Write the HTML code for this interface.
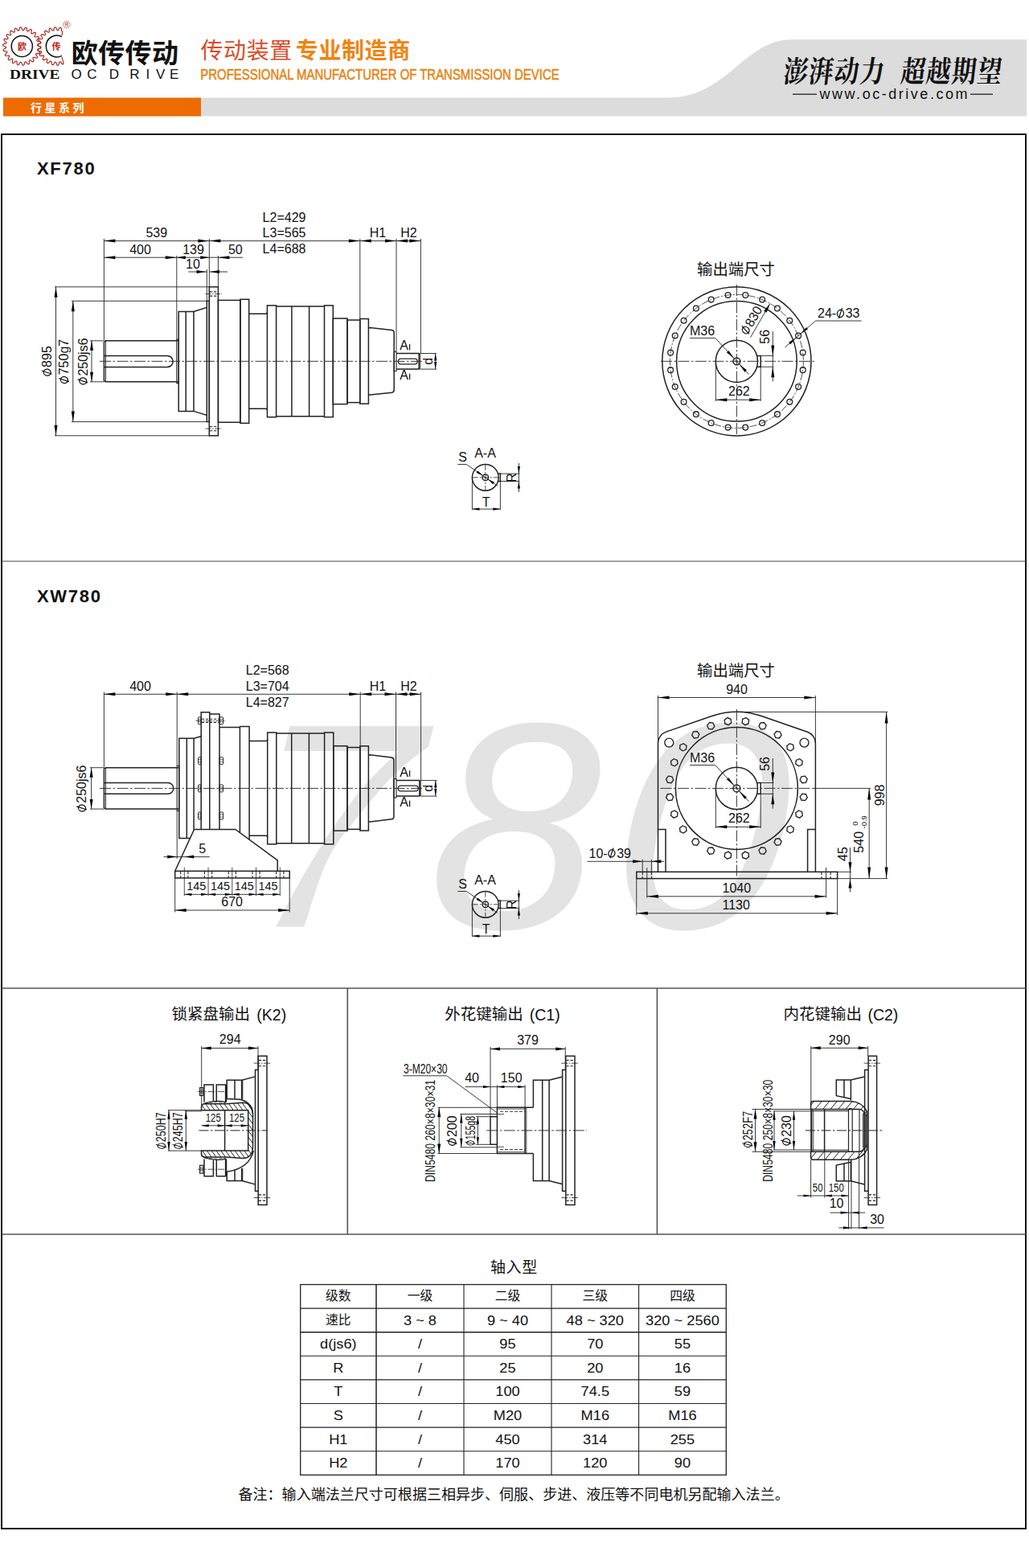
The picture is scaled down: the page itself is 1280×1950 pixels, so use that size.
<!DOCTYPE html>
<html lang="zh">
<head>
<meta charset="utf-8">
<title>XF780 / XW780</title>
<style>
html,body{margin:0;padding:0;background:#fff;}
body{width:1280px;height:1950px;position:relative;overflow:hidden;font-family:"Liberation Sans","Noto Sans CJK SC",sans-serif;}
svg#page{position:absolute;left:0;top:0;width:1280px;height:1950px;display:block;}
svg#page text{font-family:"Liberation Sans","Noto Sans CJK SC",sans-serif;stroke:none;}
</style>
</head>
<body>
<svg id="page" width="1280" height="1950" viewBox="0 0 1280 1950" font-family="Liberation Sans, sans-serif" fill="#111" stroke="#222" stroke-linecap="butt" stroke-linejoin="miter">
<g stroke="none">
<path d="M360.5 902.9 L539.3 902.9 L533 928.6 C526.1 934.1 506.4 947.4 491.7 961.9 C477.0 976.4 459.1 997.8 445.0 1015.8 C430.9 1033.8 418.4 1046.9 407.3 1069.7 C396.2 1092.5 383.3 1138.6 378.5 1152.4 L343.5 1152.4 C348.7 1142.5 362.8 1114.0 374.9 1093.0 C387.0 1072.0 402.8 1046.3 416.3 1026.6 C429.8 1006.8 442.5 989.9 455.8 974.5 C469.1 959.1 489.5 940.8 496.2 934.0 L353.4 934 Z" fill="#e3e3e3"/>
<text transform="translate(530.5 1154) skewX(-2.5) scale(1.03 1)" x="0" y="0" font-size="366" font-style="italic" fill="#e3e3e3" style="font-family:'Liberation Sans',sans-serif">8</text>
<text transform="translate(758.5 1154) skewX(-2.5) scale(1.075 1)" x="0" y="0" font-size="366" font-style="italic" fill="#e3e3e3" style="font-family:'Liberation Sans',sans-serif">0</text>
</g>
<path d="M250 121.5 L831 121.5 C905 121.5 925 49.3 985 49.3 L1277 49.3 L1277 144.6 L250 144.6Z" fill="#dcdcdc" stroke="none"/>
<rect x="4" y="121.5" width="246" height="23.1" fill="#ec6c00" stroke="none"/>
<text x="38" y="138.8" font-size="14" font-weight="bold" letter-spacing="3.5" fill="#fff">行星系列</text>
<path d="M49.1 57.5 L50.41 58.05 L50.91 58.62 L51.04 59.2 L50.83 59.75 L50.26 60.24 L48.88 60.6 L47.5 60.9 L46.9 61.28 L46.65 61.71 L46.7 62.21 L47.08 62.8 L48.22 63.64 L49.32 64.54 L49.63 65.23 L49.6 65.82 L49.24 66.28 L48.55 66.6 L47.13 66.56 L45.72 66.45 L45.05 66.65 L44.68 66.99 L44.59 67.48 L44.79 68.16 L45.64 69.29 L46.45 70.46 L46.55 71.21 L46.35 71.76 L45.88 72.11 L45.13 72.22 L43.78 71.78 L42.45 71.28 L41.75 71.28 L41.3 71.5 L41.08 71.95 L41.08 72.65 L41.58 73.98 L42.02 75.33 L41.91 76.08 L41.56 76.55 L41.01 76.75 L40.26 76.65 L39.09 75.84 L37.96 74.99 L37.28 74.79 L36.79 74.88 L36.45 75.25 L36.25 75.92 L36.36 77.33 L36.4 78.75 L36.08 79.44 L35.62 79.8 L35.03 79.83 L34.34 79.52 L33.44 78.42 L32.6 77.28 L32.01 76.9 L31.51 76.85 L31.08 77.1 L30.7 77.7 L30.4 79.08 L30.04 80.46 L29.55 81.03 L29 81.24 L28.42 81.11 L27.85 80.61 L27.3 79.3 L26.81 77.97 L26.35 77.44 L25.89 77.25 L25.4 77.37 L24.87 77.84 L24.2 79.08 L23.47 80.3 L22.83 80.71 L22.24 80.76 L21.73 80.47 L21.32 79.83 L21.16 78.42 L21.06 77.01 L20.77 76.37 L20.38 76.05 L19.88 76.04 L19.24 76.33 L18.24 77.33 L17.2 78.3 L16.47 78.51 L15.89 78.39 L15.48 77.97 L15.27 77.24 L15.51 75.84 L15.82 74.46 L15.72 73.76 L15.43 73.35 L14.96 73.19 L14.26 73.29 L13.02 73.98 L11.75 74.61 L10.99 74.61 L10.47 74.33 L10.19 73.81 L10.19 73.05 L10.82 71.78 L11.51 70.54 L11.61 69.84 L11.45 69.37 L11.04 69.08 L10.34 68.98 L8.96 69.29 L7.56 69.53 L6.83 69.32 L6.41 68.91 L6.29 68.33 L6.5 67.6 L7.47 66.56 L8.47 65.56 L8.76 64.92 L8.75 64.42 L8.43 64.03 L7.79 63.74 L6.38 63.64 L4.97 63.48 L4.33 63.07 L4.04 62.56 L4.09 61.97 L4.5 61.33 L5.72 60.6 L6.96 59.93 L7.43 59.4 L7.55 58.91 L7.36 58.45 L6.83 57.99 L5.5 57.5 L4.19 56.95 L3.69 56.38 L3.56 55.8 L3.77 55.25 L4.34 54.76 L5.72 54.4 L7.1 54.1 L7.7 53.72 L7.95 53.29 L7.9 52.79 L7.52 52.2 L6.38 51.36 L5.28 50.46 L4.97 49.77 L5 49.18 L5.36 48.72 L6.05 48.4 L7.47 48.44 L8.88 48.55 L9.55 48.35 L9.92 48.01 L10.01 47.52 L9.81 46.84 L8.96 45.71 L8.15 44.54 L8.05 43.79 L8.25 43.24 L8.72 42.89 L9.47 42.78 L10.82 43.22 L12.15 43.72 L12.85 43.72 L13.3 43.5 L13.52 43.05 L13.52 42.35 L13.02 41.02 L12.58 39.67 L12.69 38.92 L13.04 38.45 L13.59 38.25 L14.34 38.35 L15.51 39.16 L16.64 40.01 L17.32 40.21 L17.81 40.12 L18.15 39.75 L18.35 39.08 L18.24 37.67 L18.2 36.25 L18.52 35.56 L18.98 35.2 L19.57 35.17 L20.26 35.48 L21.16 36.58 L22 37.72 L22.59 38.1 L23.09 38.15 L23.52 37.9 L23.9 37.3 L24.2 35.92 L24.56 34.54 L25.05 33.97 L25.6 33.76 L26.18 33.89 L26.75 34.39 L27.3 35.7 L27.79 37.03 L28.25 37.56 L28.71 37.75 L29.2 37.63 L29.73 37.16 L30.4 35.92 L31.13 34.7 L31.77 34.29 L32.36 34.24 L32.87 34.53 L33.28 35.17 L33.44 36.58 L33.54 37.99 L33.83 38.63 L34.22 38.95 L34.72 38.96 L35.36 38.67 L36.36 37.67 L37.4 36.7 L38.13 36.49 L38.71 36.61 L39.12 37.03 L39.33 37.76 L39.09 39.16 L38.78 40.54 L38.88 41.24 L39.17 41.65 L39.64 41.81 L40.34 41.71 L41.58 41.02 L42.85 40.39 L43.61 40.39 L44.13 40.67 L44.41 41.19 L44.41 41.95 L43.78 43.22 L43.09 44.46 L42.99 45.16 L43.15 45.63 L43.56 45.92 L44.26 46.02 L45.64 45.71 L47.04 45.47 L47.77 45.68 L48.19 46.09 L48.31 46.67 L48.1 47.4 L47.13 48.44 L46.13 49.44 L45.84 50.08 L45.85 50.58 L46.17 50.97 L46.81 51.26 L48.22 51.36 L49.63 51.52 L50.27 51.93 L50.56 52.44 L50.51 53.03 L50.1 53.67 L48.88 54.4 L47.64 55.07 L47.17 55.6 L47.05 56.09 L47.24 56.55 L47.77 57.01 L49.1 57.5Z" fill="none" stroke="#a3231c" stroke-width="1.15"/>
<path d="M79.18 79.3 L78.74 79.74 L78.18 79.86 L77.51 79.63 L76.72 78.93 L75.76 77.43 L75.13 76.96 L74.62 76.83 L74.17 77.02 L73.78 77.53 L73.43 78.52 L73.14 80.28 L72.66 80.94 L72.12 81.22 L71.54 81.16 L70.97 80.75 L70.41 79.82 L69.91 78.13 L69.44 77.52 L68.98 77.26 L68.5 77.33 L67.97 77.72 L67.36 78.61 L66.59 80.18 L65.94 80.66 L65.34 80.77 L64.81 80.54 L64.38 79.96 L64.11 78.88 L64.1 77.15 L63.82 76.45 L63.45 76.08 L62.96 76.02 L62.34 76.26 L61.49 76.97 L60.32 78.23 L59.56 78.5 L58.96 78.42 L58.53 78.04 L58.28 77.36 L58.36 76.21 L58.82 74.57 L58.74 73.83 L58.48 73.39 L58.02 73.2 L57.35 73.27 L56.3 73.74 L54.84 74.59 L54.06 74.62 L53.51 74.37 L53.21 73.87 L53.18 73.13 L53.61 72.02 L54.48 70.61 L54.61 69.89 L54.47 69.4 L54.08 69.1 L53.4 68.98 L52.22 69.17 L50.62 69.54 L49.87 69.34 L49.43 68.94 L49.29 68.37 L49.48 67.65 L50.27 66.68 L51.45 65.6 L51.76 64.95 L51.76 64.44 L51.45 64.04 L50.82 63.75 L49.57 63.61 L48 63.5 L47.35 63.09 L47.05 62.57 L47.09 61.99 L47.49 61.35 L48.6 60.63 L49.95 59.94 L50.42 59.4 L50.55 58.92 L50.36 58.45 L49.83 57.99 L48.5 57.5 L47.18 56.95 L46.69 56.37 L46.56 55.8 L46.78 55.25 L47.36 54.75 L48.84 54.41 L50.12 54.1 L50.71 53.71 L50.96 53.28 L50.89 52.78 L50.5 52.18 L49.21 51.29 L48.26 50.43 L47.96 49.74 L48.01 49.16 L48.38 48.7 L49.09 48.39 L50.7 48.52 L51.93 48.54 L52.58 48.33 L52.94 47.98 L53.01 47.48 L52.79 46.78 L51.74 45.53 L51.13 44.48 L51.05 43.74 L51.28 43.2 L51.77 42.87 L52.55 42.78 L54.1 43.4 L55.22 43.73 L55.9 43.71 L56.33 43.46 L56.53 42.99 L56.51 42.25 L55.83 40.72 L55.58 39.57 L55.72 38.85 L56.09 38.41 L56.67 38.24 L57.45 38.39 L58.78 39.46 L59.74 40.06 L60.39 40.21 L60.87 40.09 L61.19 39.68 L61.37 38.95 L61.14 37.25 L61.23 36.12 L61.58 35.48 L62.07 35.17 L62.67 35.19 L63.38 35.57 L64.37 37 L65.11 37.81 L65.68 38.13 L66.17 38.13 L66.59 37.82 L66.97 37.15 L67.22 35.43 L67.64 34.41 L68.15 33.91 L68.71 33.76 L69.29 33.96 L69.86 34.54 L70.4 36.22 L70.88 37.16 L71.34 37.62 L71.81 37.75 L72.31 37.56 L72.86 37.01 L73.59 35.4 L74.28 34.58 L74.91 34.25 L75.48 34.28 L75.98 34.65 L76.36 35.38 L76.4 37.16 L76.6 38.18 L76.92 38.74 L77.33 38.98 L77.87 38.92" fill="none" stroke="#a3231c" stroke-width="1.15"/>
<path d="M79.18 79.3 L77 70.9 M77.87 38.92 L77 44.1" fill="none" stroke="#a3231c" stroke-width="1.1"/>
<circle cx="27.3" cy="57.5" r="13.1" fill="none" stroke="#111" stroke-width="1.5"/>
<path d="M76.99 45.67 A13.4 13.4 0 1 0 76.99 69.33" fill="none" stroke="#111" stroke-width="1.5"/>
<text x="27.5" y="61.6" font-size="11" font-weight="bold" text-anchor="middle" fill="#c41a10">欧</text>
<text x="70.1" y="61.6" font-size="11" font-weight="bold" text-anchor="middle" fill="#c41a10">传</text>
<circle cx="83" cy="30.6" r="4.2" fill="none" stroke="#c9635c" stroke-width="0.8"/>
<text x="83" y="33" font-size="6.5" text-anchor="middle" fill="#c9635c" font-weight="bold">R</text>
<text x="12" y="98" style="font-family:'Liberation Serif',serif" font-weight="bold" font-size="17.5" fill="#111" textLength="62.5" lengthAdjust="spacingAndGlyphs">DRIVE</text>
<text x="88.8" y="78" font-size="33" font-weight="bold" letter-spacing="0.4" fill="#111">欧传传动</text>
<text x="95.2" y="98" font-size="17" text-anchor="middle" fill="#111">O</text>
<text x="114.4" y="98" font-size="17" text-anchor="middle" fill="#111">C</text>
<text x="142" y="98" font-size="17" text-anchor="middle" fill="#111">D</text>
<text x="167.3" y="98" font-size="17" text-anchor="middle" fill="#111">R</text>
<text x="183.8" y="98" font-size="17" text-anchor="middle" fill="#111">I</text>
<text x="199.7" y="98" font-size="17" text-anchor="middle" fill="#111">V</text>
<text x="216.6" y="98" font-size="17" text-anchor="middle" fill="#111">E</text>
<text x="249.5" y="72.8" font-size="28" letter-spacing="0.6" fill="#dd4b28">传动装置</text>
<text x="367.8" y="72.8" font-size="28" font-weight="bold" letter-spacing="0.6" fill="#ef8412">专业制造商</text>
<text transform="translate(249.3 98.5) scale(0.83 1)" x="0" y="0" font-size="18" fill="#e8820e" style="stroke:#e8820e;stroke-width:0.5px">PROFESSIONAL MANUFACTURER OF TRANSMISSION DEVICE</text>
<g fill="#111" stroke="none"><text transform="translate(973 105) scale(0.92 1.12) skewX(-8)" x="0" y="-3" font-size="33" font-weight="bold" letter-spacing="1.5" fill="#111" style="font-family:'Liberation Serif','Noto Serif CJK SC',serif">澎湃动力</text><text transform="translate(1119 105) scale(0.92 1.12) skewX(-8)" x="0" y="-3" font-size="33" font-weight="bold" letter-spacing="1.5" fill="#111" style="font-family:'Liberation Serif','Noto Serif CJK SC',serif">超越期望</text></g>
<line x1="986" y1="117.2" x2="1016" y2="117.2" stroke-width="1.2" stroke="#111"/>
<line x1="1207" y1="117.2" x2="1235" y2="117.2" stroke-width="1.2" stroke="#111"/>
<text x="1019.5" y="123" font-size="18" textLength="184" lengthAdjust="spacing" fill="#111">www.oc-drive.com</text>
<rect x="2" y="167" width="1274" height="1734" fill="none" stroke="#111" stroke-width="2"/>
<line x1="2" y1="698" x2="1276" y2="698" stroke-width="1.2" stroke="#444"/>
<line x1="2" y1="1229" x2="1276" y2="1229" stroke-width="1.6" stroke="#555"/>
<line x1="2" y1="1535" x2="1276" y2="1535" stroke-width="1.6" stroke="#555"/>
<line x1="432.3" y1="1229" x2="432.3" y2="1535" stroke-width="1.6" stroke="#555"/>
<line x1="817.4" y1="1229" x2="817.4" y2="1535" stroke-width="1.6" stroke="#555"/>
<text x="46" y="217.3" font-size="22" font-weight="bold" letter-spacing="1.7" stroke="none">XF780</text>
<text x="46" y="748.5" font-size="22" font-weight="bold" letter-spacing="1.7" stroke="none">XW780</text>
<path d="M222.2 423.8 L131.2 423.8 L129.4 425.3 L129.4 473.3 L131.2 474.8 L222.2 474.8" stroke-width="1.5" fill="none"/>
<line x1="131.4" y1="424.2" x2="131.4" y2="474.5" stroke-width="1"/>
<path d="M129.4 442.6 L208.3 442.6 A6.9 6.9 0 0 1 208.3 456.4 L129.4 456.4" stroke-width="1.5" fill="none" />
<rect x="219.8" y="422.1" width="2.4" height="54.6" stroke-width="1.1" fill="none"/>
<path d="M257.3 382.4 L241 387.4 L222.2 387.4 L222.2 511.4 L241 511.4 L257.3 516.4" stroke-width="1.5" fill="none"/>
<line x1="231.2" y1="387.4" x2="231.2" y2="511.4" stroke-width="1.5"/>
<line x1="241" y1="387.4" x2="241" y2="511.4" stroke-width="1.5"/>
<rect x="257.3" y="374.3" width="3" height="150.2" stroke-width="1.5" fill="none"/>
<rect x="260.3" y="356.8" width="11.1" height="185" stroke-width="1.5" fill="none"/>
<line x1="261" y1="362.9" x2="270.7" y2="362.9" stroke-width="1.1" stroke-dasharray="3.2 1.8"/>
<line x1="261" y1="368.1" x2="270.7" y2="368.1" stroke-width="1.1" stroke-dasharray="3.2 1.8"/>
<line x1="255.5" y1="365.5" x2="276" y2="365.5" stroke-width="0.8" stroke-dasharray="7 1.5 1.5 1.5"/>
<line x1="261" y1="530.5" x2="270.7" y2="530.5" stroke-width="1.1" stroke-dasharray="3.2 1.8"/>
<line x1="261" y1="535.7" x2="270.7" y2="535.7" stroke-width="1.1" stroke-dasharray="3.2 1.8"/>
<line x1="255.5" y1="533.1" x2="276" y2="533.1" stroke-width="0.8" stroke-dasharray="7 1.5 1.5 1.5"/>
<rect x="271.4" y="373.4" width="27.5" height="151.8" stroke-width="1.5" fill="none"/>
<rect x="298.9" y="372.3" width="10.8" height="154" stroke-width="1.5" fill="none"/>
<path d="M309.7 390.3 L330.4 390.3 Q332.4 390.3 332.4 388.3 M309.7 508.3 L330.4 508.3 Q332.4 508.3 332.4 510.3" stroke-width="1.5" fill="none" />
<rect x="332.4" y="379.9" width="11.2" height="138.8" stroke-width="1.5" fill="none"/>
<rect x="403.5" y="379.9" width="10.8" height="138.8" stroke-width="1.5" fill="none"/>
<line x1="343.6" y1="380.9" x2="403.5" y2="380.9" stroke-width="1.5"/>
<line x1="343.6" y1="517.7" x2="403.5" y2="517.7" stroke-width="1.5"/>
<line x1="362.9" y1="380.9" x2="362.9" y2="517.7" stroke-width="1.5"/>
<line x1="384.6" y1="380.9" x2="384.6" y2="517.7" stroke-width="1.5"/>
<rect x="414.3" y="396" width="17.7" height="106.6" stroke-width="1.5" fill="none"/>
<rect x="432" y="398" width="15.8" height="102.6" stroke-width="1.5" fill="none"/>
<rect x="447.8" y="396.5" width="10.6" height="105.6" stroke-width="1.5" fill="none"/>
<path d="M458.4 407.7 L460.5 407.5 L487.3 410.4 Q490.2 410.8 490.2 413.8 L490.2 484.8 Q490.2 487.8 487.3 488.2 L460.5 491.1 L458.4 490.9" stroke-width="1.5" fill="none" />
<rect x="490.2" y="437.3" width="2.8" height="24.2" stroke-width="1.1" fill="none"/>
<path d="M493 439.5 L520.9 439.5 L522.2 440.6 L522.2 458 L520.9 459.1 L493 459.1" stroke-width="1.5" fill="none"/>
<line x1="520.9" y1="439.5" x2="520.9" y2="459.1" stroke-width="1.1"/>
<rect x="495.4" y="446.2" width="23.8" height="6.6" rx="3.3" fill="none" stroke-width="1.2"/>
<line x1="124" y1="449.3" x2="527" y2="449.3" stroke-width="0.9" stroke-dasharray="14 2.5 2.5 2.5"/>
<line x1="129.4" y1="297" x2="129.4" y2="423" stroke-width="0.9"/>
<line x1="219.8" y1="318" x2="219.8" y2="422" stroke-width="0.9"/>
<line x1="260.3" y1="297" x2="260.3" y2="357" stroke-width="0.9"/>
<line x1="257.3" y1="335" x2="257.3" y2="374" stroke-width="0.9"/>
<line x1="271.4" y1="318" x2="271.4" y2="357" stroke-width="0.9"/>
<line x1="447.8" y1="297" x2="447.8" y2="396" stroke-width="0.9"/>
<line x1="493" y1="297" x2="493" y2="437" stroke-width="0.9"/>
<line x1="523.4" y1="297" x2="523.4" y2="439" stroke-width="0.9"/>
<line x1="129.4" y1="299.6" x2="260.3" y2="299.6" stroke-width="0.9"/>
<path d="M129.4 299.6 L143.4 297.6 L143.4 301.6Z" fill="#000" stroke="none"/>
<path d="M260.3 299.6 L246.3 301.6 L246.3 297.6Z" fill="#000" stroke="none"/>
<g transform="translate(194.8 295.1)"><text x="-13.35" y="0" font-size="16">539</text></g>
<line x1="260.3" y1="299.6" x2="447.8" y2="299.6" stroke-width="0.9"/>
<path d="M260.3 299.6 L274.3 297.6 L274.3 301.6Z" fill="#000" stroke="none"/>
<path d="M447.8 299.6 L433.8 301.6 L433.8 297.6Z" fill="#000" stroke="none"/>
<g transform="translate(326.6 275.8)"><text x="0" y="0" font-size="16">L2=429</text></g>
<g transform="translate(326.6 295.35)"><text x="0" y="0" font-size="16">L3=565</text></g>
<g transform="translate(326.6 314.9)"><text x="0" y="0" font-size="16">L4=688</text></g>
<line x1="447.8" y1="299.6" x2="493" y2="299.6" stroke-width="0.9"/>
<path d="M447.8 299.6 L461.8 297.6 L461.8 301.6Z" fill="#000" stroke="none"/>
<path d="M493 299.6 L479 301.6 L479 297.6Z" fill="#000" stroke="none"/>
<g transform="translate(470 295)"><text x="-10.23" y="0" font-size="16">H1</text></g>
<line x1="493" y1="299.6" x2="523.4" y2="299.6" stroke-width="0.9"/>
<path d="M493 299.6 L507 297.6 L507 301.6Z" fill="#000" stroke="none"/>
<path d="M523.4 299.6 L509.4 301.6 L509.4 297.6Z" fill="#000" stroke="none"/>
<g transform="translate(508.5 295)"><text x="-10.23" y="0" font-size="16">H2</text></g>
<line x1="129.4" y1="320.2" x2="219.8" y2="320.2" stroke-width="0.9"/>
<path d="M129.4 320.2 L143.4 318.2 L143.4 322.2Z" fill="#000" stroke="none"/>
<path d="M219.8 320.2 L205.8 322.2 L205.8 318.2Z" fill="#000" stroke="none"/>
<g transform="translate(174.5 315.5)"><text x="-13.35" y="0" font-size="16">400</text></g>
<line x1="219.8" y1="320.2" x2="260.3" y2="320.2" stroke-width="0.9"/>
<path d="M219.8 320.2 L230.8 318.2 L230.8 322.2Z" fill="#000" stroke="none"/>
<path d="M260.3 320.2 L249.3 322.2 L249.3 318.2Z" fill="#000" stroke="none"/>
<g transform="translate(240.5 315.5)"><text x="-13.35" y="0" font-size="16">139</text></g>
<line x1="260.3" y1="320.2" x2="302.2" y2="320.2" stroke-width="0.9"/>
<path d="M271.4 320.2 L285.4 318.2 L285.4 322.2Z" fill="#000" stroke="none"/>
<g transform="translate(292.8 315.5)"><text x="-8.9" y="0" font-size="16">50</text></g>
<line x1="234.5" y1="338" x2="257.3" y2="338" stroke-width="0.9"/>
<path d="M256.6 338 L244.6 340 L244.6 336Z" fill="#000" stroke="none"/>
<line x1="260.3" y1="338" x2="283" y2="338" stroke-width="0.9"/>
<path d="M261 338 L273 336 L273 340Z" fill="#000" stroke="none"/>
<g transform="translate(240 333.8)"><text x="-8.9" y="0" font-size="16">10</text></g>
<line x1="68" y1="356.8" x2="260.3" y2="356.8" stroke-width="0.9"/>
<line x1="68" y1="541.8" x2="260.3" y2="541.8" stroke-width="0.9"/>
<line x1="69.5" y1="356.8" x2="69.5" y2="541.8" stroke-width="0.9"/>
<path d="M69.5 356.8 L71.5 369.8 L67.5 369.8Z" fill="#000" stroke="none"/>
<path d="M69.5 541.8 L67.5 528.8 L71.5 528.8Z" fill="#000" stroke="none"/>
<line x1="89" y1="374.3" x2="257.3" y2="374.3" stroke-width="0.9"/>
<line x1="89" y1="524.5" x2="257.3" y2="524.5" stroke-width="0.9"/>
<line x1="90.8" y1="374.3" x2="90.8" y2="524.5" stroke-width="0.9"/>
<path d="M90.8 374.3 L92.8 387.3 L88.8 387.3Z" fill="#000" stroke="none"/>
<path d="M90.8 524.5 L88.8 511.5 L92.8 511.5Z" fill="#000" stroke="none"/>
<line x1="112" y1="423.8" x2="129.4" y2="423.8" stroke-width="0.9"/>
<line x1="112" y1="474.8" x2="129.4" y2="474.8" stroke-width="0.9"/>
<line x1="114" y1="423.8" x2="114" y2="474.8" stroke-width="0.9"/>
<path d="M114 423.8 L116 435.8 L112 435.8Z" fill="#000" stroke="none"/>
<path d="M114 474.8 L112 462.8 L116 462.8Z" fill="#000" stroke="none"/>
<g transform="translate(64 449.3) rotate(-90)"><ellipse cx="-13.83" cy="-5.36" rx="4" ry="4.56" transform="rotate(12 -13.83 -5.36)" fill="none" stroke="#111" stroke-width="1.28"/><line x1="-15.91" y1="0.64" x2="-11.75" y2="-12.16" stroke="#111" stroke-width="1.2"/><text x="-7.59" y="0" font-size="16">895</text></g>
<g transform="translate(85.3 449.8) rotate(-90)"><ellipse cx="-22.73" cy="-5.36" rx="4" ry="4.56" transform="rotate(12 -22.73 -5.36)" fill="none" stroke="#111" stroke-width="1.28"/><line x1="-24.81" y1="0.64" x2="-20.65" y2="-12.16" stroke="#111" stroke-width="1.2"/><text x="-16.49" y="0" font-size="16">750g7</text></g>
<g transform="translate(108.6 449.8) rotate(-90)"><ellipse cx="-24.05" cy="-5.36" rx="4" ry="4.56" transform="rotate(12 -24.05 -5.36)" fill="none" stroke="#111" stroke-width="1.28"/><line x1="-26.13" y1="0.64" x2="-21.97" y2="-12.16" stroke="#111" stroke-width="1.2"/><text x="-17.81" y="0" font-size="16">250js6</text></g>
<line x1="522.2" y1="439.5" x2="543" y2="439.5" stroke-width="0.9"/>
<line x1="522.2" y1="459.1" x2="543" y2="459.1" stroke-width="0.9"/>
<line x1="541.7" y1="439.5" x2="541.7" y2="459.1" stroke-width="0.9"/>
<path d="M541.7 439.5 L543.3 448.5 L540.1 448.5Z" fill="#000" stroke="none"/>
<path d="M541.7 459.1 L540.1 450.1 L543.3 450.1Z" fill="#000" stroke="none"/>
<g transform="translate(538.3 449.3) rotate(-90)"><text x="-4.45" y="0" font-size="16">d</text></g>
<g transform="translate(497.2 435.4)"><text x="0" y="0" font-size="16">A</text></g>
<line x1="509.6" y1="427.8" x2="509.6" y2="435.4" stroke-width="1.3"/>
<g transform="translate(497.2 472.2)"><text x="0" y="0" font-size="16">A</text></g>
<line x1="509.6" y1="464.6" x2="509.6" y2="472.2" stroke-width="1.3"/>
<text x="867" y="341.5" font-size="19.4" fill="#111">输出端尺寸</text>
<circle cx="916.4" cy="449.3" r="92.6" stroke-width="1.5" fill="none"/>
<circle cx="916.4" cy="449.3" r="74.8" stroke-width="1.5" fill="none"/>
<circle cx="916.4" cy="449.3" r="83" stroke-width="0.8" fill="none" stroke-dasharray="9 2 2 2"/>
<circle cx="998.69" cy="438.47" r="3.4" stroke-width="1.3" fill="none"/>
<circle cx="993.08" cy="417.54" r="3.4" stroke-width="1.3" fill="none"/>
<circle cx="982.25" cy="398.77" r="3.4" stroke-width="1.3" fill="none"/>
<circle cx="966.93" cy="383.45" r="3.4" stroke-width="1.3" fill="none"/>
<circle cx="948.16" cy="372.62" r="3.4" stroke-width="1.3" fill="none"/>
<circle cx="927.23" cy="367.01" r="3.4" stroke-width="1.3" fill="none"/>
<circle cx="905.57" cy="367.01" r="3.4" stroke-width="1.3" fill="none"/>
<circle cx="884.64" cy="372.62" r="3.4" stroke-width="1.3" fill="none"/>
<circle cx="865.87" cy="383.45" r="3.4" stroke-width="1.3" fill="none"/>
<circle cx="850.55" cy="398.77" r="3.4" stroke-width="1.3" fill="none"/>
<circle cx="839.72" cy="417.54" r="3.4" stroke-width="1.3" fill="none"/>
<circle cx="834.11" cy="438.47" r="3.4" stroke-width="1.3" fill="none"/>
<circle cx="834.11" cy="460.13" r="3.4" stroke-width="1.3" fill="none"/>
<circle cx="839.72" cy="481.06" r="3.4" stroke-width="1.3" fill="none"/>
<circle cx="850.55" cy="499.83" r="3.4" stroke-width="1.3" fill="none"/>
<circle cx="865.87" cy="515.15" r="3.4" stroke-width="1.3" fill="none"/>
<circle cx="884.64" cy="525.98" r="3.4" stroke-width="1.3" fill="none"/>
<circle cx="905.57" cy="531.59" r="3.4" stroke-width="1.3" fill="none"/>
<circle cx="927.23" cy="531.59" r="3.4" stroke-width="1.3" fill="none"/>
<circle cx="948.16" cy="525.98" r="3.4" stroke-width="1.3" fill="none"/>
<circle cx="966.93" cy="515.15" r="3.4" stroke-width="1.3" fill="none"/>
<circle cx="982.25" cy="499.83" r="3.4" stroke-width="1.3" fill="none"/>
<circle cx="993.08" cy="481.06" r="3.4" stroke-width="1.3" fill="none"/>
<circle cx="998.69" cy="460.13" r="3.4" stroke-width="1.3" fill="none"/>
<line x1="822" y1="449.3" x2="1014" y2="449.3" stroke-width="0.9" stroke-dasharray="14 2.5 2.5 2.5"/>
<line x1="916.4" y1="354" x2="916.4" y2="540" stroke-width="0.9" stroke-dasharray="14 2.5 2.5 2.5"/>
<circle cx="916.4" cy="449.3" r="26.1" stroke-width="1.5" fill="none"/>
<circle cx="916.4" cy="449.3" r="4.4" stroke-width="1.5" fill="none"/>
<path d="M941.6 442.4 L946.2 442.4 L946.2 456.2 L941.6 456.2" stroke-width="1.5" fill="none"/>
<line x1="946.2" y1="442.4" x2="962.4" y2="442.4" stroke-width="0.9"/>
<line x1="946.2" y1="456.2" x2="962.4" y2="456.2" stroke-width="0.9"/>
<line x1="961.3" y1="411.9" x2="961.3" y2="474.5" stroke-width="0.9"/>
<path d="M961.3 442.4 L959.3 429.4 L963.3 429.4Z" fill="#000" stroke="none"/>
<path d="M961.3 456.2 L963.3 469.2 L959.3 469.2Z" fill="#000" stroke="none"/>
<g transform="translate(957 418.8) rotate(-90)"><text x="-8.9" y="0" font-size="16">56</text></g>
<line x1="890.3" y1="449.3" x2="890.3" y2="498.8" stroke-width="0.9"/>
<line x1="946.2" y1="456.2" x2="946.2" y2="498.8" stroke-width="0.9"/>
<line x1="890.3" y1="497.2" x2="946.2" y2="497.2" stroke-width="0.9"/>
<path d="M890.3 497.2 L904.3 495.2 L904.3 499.2Z" fill="#000" stroke="none"/>
<path d="M946.2 497.2 L932.2 499.2 L932.2 495.2Z" fill="#000" stroke="none"/>
<g transform="translate(919.4 491.7)"><text x="-13.35" y="0" font-size="16">262</text></g>
<g transform="translate(858 417)"><text x="0" y="0" font-size="16">M36</text></g>
<line x1="858.1" y1="420.4" x2="889.7" y2="420.4" stroke-width="0.9"/>
<line x1="889.7" y1="420.4" x2="931.4" y2="465.54" stroke-width="0.9"/>
<path d="M913.28 445.92 L903.89 438.26 L906.38 435.95Z" fill="#000" stroke="none"/>
<path d="M919.52 452.68 L928.91 460.34 L926.42 462.65Z" fill="#000" stroke="none"/>
<line x1="933.4" y1="419.86" x2="957.9" y2="377.42" stroke-width="0.9"/>
<path d="M957.9 377.42 L953.63 388.81 L950.17 386.81Z" fill="#000" stroke="none"/>
<g transform="translate(939.26 401.3) rotate(-60)"><ellipse cx="-13.83" cy="-5.36" rx="4" ry="4.56" transform="rotate(12 -13.83 -5.36)" fill="none" stroke="#111" stroke-width="1.28"/><line x1="-15.91" y1="0.64" x2="-11.75" y2="-12.16" stroke="#111" stroke-width="1.2"/><text x="-7.59" y="0" font-size="16">830</text></g>
<g transform="translate(1017 395.3)"><text x="0" y="0" font-size="16">24-</text><ellipse cx="28.41" cy="-5.36" rx="4" ry="4.56" transform="rotate(12 28.41 -5.36)" fill="none" stroke="#111" stroke-width="1.28"/><line x1="26.32" y1="0.64" x2="30.48" y2="-12.16" stroke="#111" stroke-width="1.2"/><text x="34.64" y="0" font-size="16">33</text></g>
<line x1="1014.5" y1="399" x2="1071.5" y2="399" stroke-width="0.9"/>
<line x1="1014.5" y1="399" x2="976.45" y2="431.93" stroke-width="0.9"/>
<path d="M995.65 415.31 L1002.92 406.9 L1005.02 409.32Z" fill="#000" stroke="none"/>
<path d="M990.51 419.76 L983.24 428.17 L981.15 425.75Z" fill="#000" stroke="none"/>
<g transform="translate(603.5 568.5)"><text x="-13.34" y="0" font-size="16">A-A</text></g>
<g transform="translate(570.3 574.2)"><text x="0" y="0" font-size="16">S</text></g>
<line x1="569.4" y1="577.5" x2="580.3" y2="577.5" stroke-width="0.9"/>
<line x1="580.3" y1="577.5" x2="619" y2="604.34" stroke-width="0.9"/>
<path d="M600.6 591.58 L592.7 588.05 L594.52 585.42Z" fill="#000" stroke="none"/>
<path d="M607 596.02 L614.9 599.55 L613.08 602.18Z" fill="#000" stroke="none"/>
<circle cx="603.8" cy="593.8" r="16.4" stroke-width="1.5" fill="none"/>
<circle cx="603.8" cy="593.8" r="3.8" stroke-width="1.4" fill="none"/>
<line x1="587.8" y1="593.8" x2="619.8" y2="593.8" stroke-width="0.8" stroke-dasharray="7 2 2 2"/>
<line x1="603.8" y1="577.8" x2="603.8" y2="609.8" stroke-width="0.8" stroke-dasharray="7 2 2 2"/>
<path d="M619.5 589.1 L622.4 589.1 L622.4 598.5 L619.5 598.5" stroke-width="1.5" fill="none"/>
<line x1="622.4" y1="589.1" x2="646.3" y2="589.1" stroke-width="0.9"/>
<line x1="622.4" y1="598.5" x2="646.3" y2="598.5" stroke-width="0.9"/>
<line x1="645.4" y1="576" x2="645.4" y2="612" stroke-width="0.9"/>
<path d="M645.4 589.1 L643.8 580.1 L647 580.1Z" fill="#000" stroke="none"/>
<path d="M645.4 598.5 L647 607.5 L643.8 607.5Z" fill="#000" stroke="none"/>
<g transform="translate(642.4 594) rotate(-90)"><text x="-5.78" y="0" font-size="16">R</text></g>
<line x1="587.4" y1="593.8" x2="587.4" y2="633.8" stroke-width="0.9"/>
<line x1="622.4" y1="598.5" x2="622.4" y2="633.8" stroke-width="0.9"/>
<line x1="587.4" y1="633.1" x2="622.4" y2="633.1" stroke-width="0.9"/>
<path d="M587.4 633.1 L596.4 631.5 L596.4 634.7Z" fill="#000" stroke="none"/>
<path d="M622.4 633.1 L613.4 634.7 L613.4 631.5Z" fill="#000" stroke="none"/>
<g transform="translate(604.6 630)"><text x="-4.89" y="0" font-size="16">T</text></g>
<path d="M222.8 954.7 L131.2 954.7 L129.4 956.2 L129.4 1004.6 L131.2 1006.1 L222.8 1006.1" stroke-width="1.5" fill="none"/>
<line x1="131.4" y1="955" x2="131.4" y2="1005.8" stroke-width="1"/>
<path d="M129.4 973.6 L209 973.6 A6.8 6.8 0 0 1 209 987.2 L129.4 987.2" stroke-width="1.5" fill="none" />
<rect x="220.2" y="952.4" width="2.6" height="56" stroke-width="1.1" fill="none"/>
<path d="M250.2 915.7 L241.1 918.3 L222.8 918.3 L222.8 1042.5 L236.4 1042.5" stroke-width="1.5" fill="none"/>
<line x1="232.3" y1="918.3" x2="232.3" y2="1042.5" stroke-width="1.5"/>
<line x1="241.1" y1="918.3" x2="241.1" y2="1031.5" stroke-width="1.5"/>
<path d="M250.2 1031.5 L250.2 885.7 L260.8 885.7 L260.8 1031.5" stroke-width="1.5" fill="none"/>
<path d="M260.8 887.9 L273 887.9 L273 1031.5" stroke-width="1.5" fill="none"/>
<rect x="246.6" y="891.8" width="3.6" height="9" rx="1" fill="none" stroke-width="1.0"/>
<line x1="246.6" y1="894.7" x2="250.2" y2="894.7" stroke-width="0.6"/>
<line x1="246.6" y1="897.9" x2="250.2" y2="897.9" stroke-width="0.6"/>
<rect x="273" y="891.8" width="4.6" height="9" rx="1" fill="none" stroke-width="1.0"/>
<line x1="273" y1="894.7" x2="277.6" y2="894.7" stroke-width="0.6"/>
<line x1="273" y1="897.9" x2="277.6" y2="897.9" stroke-width="0.6"/>
<line x1="250.9" y1="894.2" x2="272.4" y2="894.2" stroke-width="1.1" stroke-dasharray="3.2 1.8"/>
<line x1="250.9" y1="898.4" x2="272.4" y2="898.4" stroke-width="1.1" stroke-dasharray="3.2 1.8"/>
<line x1="243.5" y1="896.3" x2="281" y2="896.3" stroke-width="0.8" stroke-dasharray="8 1.5 1.5 1.5"/>
<rect x="246.6" y="941.7" width="3.6" height="9" rx="1" fill="none" stroke-width="1.0"/>
<line x1="246.6" y1="944.6" x2="250.2" y2="944.6" stroke-width="0.6"/>
<line x1="246.6" y1="947.8" x2="250.2" y2="947.8" stroke-width="0.6"/>
<rect x="273" y="941.7" width="4.6" height="9" rx="1" fill="none" stroke-width="1.0"/>
<line x1="273" y1="944.6" x2="277.6" y2="944.6" stroke-width="0.6"/>
<line x1="273" y1="947.8" x2="277.6" y2="947.8" stroke-width="0.6"/>
<rect x="246.6" y="975.9" width="3.6" height="9" rx="1" fill="none" stroke-width="1.0"/>
<line x1="246.6" y1="978.8" x2="250.2" y2="978.8" stroke-width="0.6"/>
<line x1="246.6" y1="982" x2="250.2" y2="982" stroke-width="0.6"/>
<rect x="273" y="975.9" width="4.6" height="9" rx="1" fill="none" stroke-width="1.0"/>
<line x1="273" y1="978.8" x2="277.6" y2="978.8" stroke-width="0.6"/>
<line x1="273" y1="982" x2="277.6" y2="982" stroke-width="0.6"/>
<rect x="246.6" y="1010" width="3.6" height="9" rx="1" fill="none" stroke-width="1.0"/>
<line x1="246.6" y1="1012.9" x2="250.2" y2="1012.9" stroke-width="0.6"/>
<line x1="246.6" y1="1016.1" x2="250.2" y2="1016.1" stroke-width="0.6"/>
<rect x="273" y="1010" width="4.6" height="9" rx="1" fill="none" stroke-width="1.0"/>
<line x1="273" y1="1012.9" x2="277.6" y2="1012.9" stroke-width="0.6"/>
<line x1="273" y1="1016.1" x2="277.6" y2="1016.1" stroke-width="0.6"/>
<path d="M273 904.5 L298.4 904.5" stroke-width="1.5" fill="none"/>
<line x1="298.4" y1="903.4" x2="298.4" y2="1035.6" stroke-width="1.5"/>
<path d="M298.4 903.4 L310.1 903.4 L310.1 1043.9" stroke-width="1.5" fill="none"/>
<path d="M310.1 921.5 L330.7 921.5 Q332.7 921.5 332.7 919.5 M310.1 1039.3 L330.7 1039.3 Q332.7 1039.3 332.7 1041.3" stroke-width="1.5" fill="none" />
<rect x="332.7" y="911" width="11.1" height="138.8" stroke-width="1.5" fill="none"/>
<rect x="403.6" y="911" width="11.2" height="138.8" stroke-width="1.5" fill="none"/>
<line x1="343.8" y1="912" x2="403.6" y2="912" stroke-width="1.5"/>
<line x1="343.8" y1="1048.8" x2="403.6" y2="1048.8" stroke-width="1.5"/>
<line x1="362.7" y1="912" x2="362.7" y2="1048.8" stroke-width="1.5"/>
<line x1="384.4" y1="912" x2="384.4" y2="1048.8" stroke-width="1.5"/>
<rect x="414.8" y="927.7" width="17.2" height="105.4" stroke-width="1.5" fill="none"/>
<rect x="432" y="929.5" width="15.9" height="101.8" stroke-width="1.5" fill="none"/>
<rect x="447.9" y="927.8" width="10.5" height="105.2" stroke-width="1.5" fill="none"/>
<path d="M458.4 939 L460.5 938.8 L487 942 Q489.9 942.4 489.9 945.4 L489.9 1015.4 Q489.9 1018.4 487 1018.8 L460.5 1022 L458.4 1021.8" stroke-width="1.5" fill="none" />
<rect x="489.9" y="968.6" width="3.1" height="23.4" stroke-width="1.1" fill="none"/>
<path d="M493 970.6 L521.6 970.6 L523 971.7 L523 989 L521.6 990.1 L493 990.1" stroke-width="1.5" fill="none"/>
<line x1="521.6" y1="970.6" x2="521.6" y2="990.1" stroke-width="1.1"/>
<rect x="495.2" y="977.2" width="25" height="6.6" rx="3.3" fill="none" stroke-width="1.2"/>
<line x1="124" y1="980.4" x2="527" y2="980.4" stroke-width="0.9" stroke-dasharray="14 2.5 2.5 2.5"/>
<path d="M217.7 1083.3 L241.5 1031.4 L292.85 1031.4 L345.2 1069.9 L345.2 1083.3" stroke-width="1.5" fill="none"/>
<rect x="217.7" y="1083.3" width="142.5" height="8.6" stroke-width="1.5" fill="none"/>
<line x1="224.7" y1="1084" x2="224.7" y2="1091.8" stroke-width="1.1" stroke-dasharray="3.2 1.8"/>
<line x1="233.9" y1="1084" x2="233.9" y2="1091.8" stroke-width="1.1" stroke-dasharray="3.2 1.8"/>
<line x1="229.3" y1="1078.6" x2="229.3" y2="1114" stroke-width="0.8"/>
<line x1="254.45" y1="1084" x2="254.45" y2="1091.8" stroke-width="1.1" stroke-dasharray="3.2 1.8"/>
<line x1="263.65" y1="1084" x2="263.65" y2="1091.8" stroke-width="1.1" stroke-dasharray="3.2 1.8"/>
<line x1="259.05" y1="1078.6" x2="259.05" y2="1114" stroke-width="0.8"/>
<line x1="284.2" y1="1084" x2="284.2" y2="1091.8" stroke-width="1.1" stroke-dasharray="3.2 1.8"/>
<line x1="293.4" y1="1084" x2="293.4" y2="1091.8" stroke-width="1.1" stroke-dasharray="3.2 1.8"/>
<line x1="288.8" y1="1078.6" x2="288.8" y2="1114" stroke-width="0.8"/>
<line x1="313.95" y1="1084" x2="313.95" y2="1091.8" stroke-width="1.1" stroke-dasharray="3.2 1.8"/>
<line x1="323.15" y1="1084" x2="323.15" y2="1091.8" stroke-width="1.1" stroke-dasharray="3.2 1.8"/>
<line x1="318.55" y1="1078.6" x2="318.55" y2="1114" stroke-width="0.8"/>
<line x1="343.7" y1="1084" x2="343.7" y2="1091.8" stroke-width="1.1" stroke-dasharray="3.2 1.8"/>
<line x1="352.9" y1="1084" x2="352.9" y2="1091.8" stroke-width="1.1" stroke-dasharray="3.2 1.8"/>
<line x1="348.3" y1="1078.6" x2="348.3" y2="1114" stroke-width="0.8"/>
<line x1="129.4" y1="860.5" x2="129.4" y2="954" stroke-width="0.9"/>
<line x1="220.2" y1="860.5" x2="220.2" y2="952" stroke-width="0.9"/>
<line x1="448.2" y1="860.5" x2="448.2" y2="927" stroke-width="0.9"/>
<line x1="492.5" y1="860.5" x2="492.5" y2="968" stroke-width="0.9"/>
<line x1="523.6" y1="860.5" x2="523.6" y2="970" stroke-width="0.9"/>
<line x1="129.4" y1="863.3" x2="220.2" y2="863.3" stroke-width="0.9"/>
<path d="M129.4 863.3 L143.4 861.3 L143.4 865.3Z" fill="#000" stroke="none"/>
<path d="M220.2 863.3 L206.2 865.3 L206.2 861.3Z" fill="#000" stroke="none"/>
<g transform="translate(174.5 858.6)"><text x="-13.35" y="0" font-size="16">400</text></g>
<line x1="220.2" y1="863.3" x2="448.2" y2="863.3" stroke-width="0.9"/>
<path d="M220.2 863.3 L234.2 861.3 L234.2 865.3Z" fill="#000" stroke="none"/>
<path d="M448.2 863.3 L434.2 865.3 L434.2 861.3Z" fill="#000" stroke="none"/>
<g transform="translate(305.8 838.6)"><text x="0" y="0" font-size="16">L2=568</text></g>
<g transform="translate(305.8 858.6)"><text x="0" y="0" font-size="16">L3=704</text></g>
<g transform="translate(305.8 878.6)"><text x="0" y="0" font-size="16">L4=827</text></g>
<line x1="448.2" y1="863.3" x2="492.5" y2="863.3" stroke-width="0.9"/>
<path d="M448.2 863.3 L462.2 861.3 L462.2 865.3Z" fill="#000" stroke="none"/>
<path d="M492.5 863.3 L478.5 865.3 L478.5 861.3Z" fill="#000" stroke="none"/>
<g transform="translate(470 858.6)"><text x="-10.23" y="0" font-size="16">H1</text></g>
<line x1="492.5" y1="863.3" x2="523.6" y2="863.3" stroke-width="0.9"/>
<path d="M492.5 863.3 L506.5 861.3 L506.5 865.3Z" fill="#000" stroke="none"/>
<path d="M523.6 863.3 L509.6 865.3 L509.6 861.3Z" fill="#000" stroke="none"/>
<g transform="translate(508.5 858.6)"><text x="-10.23" y="0" font-size="16">H2</text></g>
<line x1="112" y1="954.7" x2="129.4" y2="954.7" stroke-width="0.9"/>
<line x1="112" y1="1006.1" x2="129.4" y2="1006.1" stroke-width="0.9"/>
<line x1="113.6" y1="954.7" x2="113.6" y2="1006.1" stroke-width="0.9"/>
<path d="M113.6 954.7 L115.6 966.7 L111.6 966.7Z" fill="#000" stroke="none"/>
<path d="M113.6 1006.1 L111.6 994.1 L115.6 994.1Z" fill="#000" stroke="none"/>
<g transform="translate(107.4 980.9) rotate(-90)"><ellipse cx="-24.05" cy="-5.36" rx="4" ry="4.56" transform="rotate(12 -24.05 -5.36)" fill="none" stroke="#111" stroke-width="1.28"/><line x1="-26.13" y1="0.64" x2="-21.97" y2="-12.16" stroke="#111" stroke-width="1.2"/><text x="-17.81" y="0" font-size="16">250js6</text></g>
<line x1="523" y1="970.6" x2="543.5" y2="970.6" stroke-width="0.9"/>
<line x1="523" y1="990.1" x2="543.5" y2="990.1" stroke-width="0.9"/>
<line x1="541.8" y1="970.6" x2="541.8" y2="990.1" stroke-width="0.9"/>
<path d="M541.8 970.6 L543.4 979.6 L540.2 979.6Z" fill="#000" stroke="none"/>
<path d="M541.8 990.1 L540.2 981.1 L543.4 981.1Z" fill="#000" stroke="none"/>
<g transform="translate(538.4 980.4) rotate(-90)"><text x="-4.45" y="0" font-size="16">d</text></g>
<g transform="translate(497.2 965.8)"><text x="0" y="0" font-size="16">A</text></g>
<line x1="509.6" y1="958.2" x2="509.6" y2="965.8" stroke-width="1.3"/>
<g transform="translate(497.2 1003.2)"><text x="0" y="0" font-size="16">A</text></g>
<line x1="509.6" y1="995.6" x2="509.6" y2="1003.2" stroke-width="1.3"/>
<line x1="220.2" y1="1008" x2="220.2" y2="1068" stroke-width="0.9"/>
<line x1="203.5" y1="1065.6" x2="260.8" y2="1065.6" stroke-width="0.9"/>
<path d="M220.2 1065.6 L208.2 1067.6 L208.2 1063.6Z" fill="#000" stroke="none"/>
<path d="M229.3 1065.6 L241.3 1063.6 L241.3 1067.6Z" fill="#000" stroke="none"/>
<g transform="translate(251.6 1060.6)"><text x="-4.45" y="0" font-size="16">5</text></g>
<line x1="229.3" y1="1112.3" x2="259.05" y2="1112.3" stroke-width="0.9"/>
<path d="M229.3 1112.3 L238.3 1110.7 L238.3 1113.9Z" fill="#000" stroke="none"/>
<path d="M259.05 1112.3 L250.05 1113.9 L250.05 1110.7Z" fill="#000" stroke="none"/>
<g transform="translate(244.18 1107.4) scale(0.93 1)"><text x="-12.93" y="0" font-size="15.5">145</text></g>
<line x1="259.05" y1="1112.3" x2="288.8" y2="1112.3" stroke-width="0.9"/>
<path d="M259.05 1112.3 L268.05 1110.7 L268.05 1113.9Z" fill="#000" stroke="none"/>
<path d="M288.8 1112.3 L279.8 1113.9 L279.8 1110.7Z" fill="#000" stroke="none"/>
<g transform="translate(273.93 1107.4) scale(0.93 1)"><text x="-12.93" y="0" font-size="15.5">145</text></g>
<line x1="288.8" y1="1112.3" x2="318.55" y2="1112.3" stroke-width="0.9"/>
<path d="M288.8 1112.3 L297.8 1110.7 L297.8 1113.9Z" fill="#000" stroke="none"/>
<path d="M318.55 1112.3 L309.55 1113.9 L309.55 1110.7Z" fill="#000" stroke="none"/>
<g transform="translate(303.68 1107.4) scale(0.93 1)"><text x="-12.93" y="0" font-size="15.5">145</text></g>
<line x1="318.55" y1="1112.3" x2="348.3" y2="1112.3" stroke-width="0.9"/>
<path d="M318.55 1112.3 L327.55 1110.7 L327.55 1113.9Z" fill="#000" stroke="none"/>
<path d="M348.3 1112.3 L339.3 1113.9 L339.3 1110.7Z" fill="#000" stroke="none"/>
<g transform="translate(333.43 1107.4) scale(0.93 1)"><text x="-12.93" y="0" font-size="15.5">145</text></g>
<line x1="217.7" y1="1091.9" x2="217.7" y2="1134.5" stroke-width="0.9"/>
<line x1="360.2" y1="1091.9" x2="360.2" y2="1134.5" stroke-width="0.9"/>
<line x1="217.7" y1="1132" x2="360.2" y2="1132" stroke-width="0.9"/>
<path d="M217.7 1132 L231.7 1130 L231.7 1134Z" fill="#000" stroke="none"/>
<path d="M360.2 1132 L346.2 1134 L346.2 1130Z" fill="#000" stroke="none"/>
<g transform="translate(288.6 1127.2)"><text x="-13.35" y="0" font-size="16">670</text></g>
<g transform="translate(603.5 1099.5)"><text x="-13.34" y="0" font-size="16">A-A</text></g>
<g transform="translate(570.3 1105.2)"><text x="0" y="0" font-size="16">S</text></g>
<line x1="569.4" y1="1108.5" x2="580.3" y2="1108.5" stroke-width="0.9"/>
<line x1="580.3" y1="1108.5" x2="619" y2="1135.34" stroke-width="0.9"/>
<path d="M600.6 1122.58 L592.7 1119.05 L594.52 1116.42Z" fill="#000" stroke="none"/>
<path d="M607 1127.02 L614.9 1130.55 L613.08 1133.18Z" fill="#000" stroke="none"/>
<circle cx="603.8" cy="1124.8" r="16.4" stroke-width="1.5" fill="none"/>
<circle cx="603.8" cy="1124.8" r="3.8" stroke-width="1.4" fill="none"/>
<line x1="587.8" y1="1124.8" x2="619.8" y2="1124.8" stroke-width="0.8" stroke-dasharray="7 2 2 2"/>
<line x1="603.8" y1="1108.8" x2="603.8" y2="1140.8" stroke-width="0.8" stroke-dasharray="7 2 2 2"/>
<path d="M619.5 1120.1 L622.4 1120.1 L622.4 1129.5 L619.5 1129.5" stroke-width="1.5" fill="none"/>
<line x1="622.4" y1="1120.1" x2="646.3" y2="1120.1" stroke-width="0.9"/>
<line x1="622.4" y1="1129.5" x2="646.3" y2="1129.5" stroke-width="0.9"/>
<line x1="645.4" y1="1107" x2="645.4" y2="1143" stroke-width="0.9"/>
<path d="M645.4 1120.1 L643.8 1111.1 L647 1111.1Z" fill="#000" stroke="none"/>
<path d="M645.4 1129.5 L647 1138.5 L643.8 1138.5Z" fill="#000" stroke="none"/>
<g transform="translate(642.4 1125) rotate(-90)"><text x="-5.78" y="0" font-size="16">R</text></g>
<line x1="587.4" y1="1124.8" x2="587.4" y2="1164.8" stroke-width="0.9"/>
<line x1="622.4" y1="1129.5" x2="622.4" y2="1164.8" stroke-width="0.9"/>
<line x1="587.4" y1="1164.1" x2="622.4" y2="1164.1" stroke-width="0.9"/>
<path d="M587.4 1164.1 L596.4 1162.5 L596.4 1165.7Z" fill="#000" stroke="none"/>
<path d="M622.4 1164.1 L613.4 1165.7 L613.4 1162.5Z" fill="#000" stroke="none"/>
<g transform="translate(604.6 1161)"><text x="-4.89" y="0" font-size="16">T</text></g>
<text x="867" y="841.2" font-size="19.4" fill="#111">输出端尺寸</text>
<path d="M818.5 1084.3 L818.5 924.34 A15 15 0 0 1 828.62 910.15 L885.47 890.58 A95 95 0 0 1 947.33 890.58 L1004.28 910.19 A15 15 0 0 1 1014.4 924.37 L1014.4 1084.3" stroke-width="1.5" fill="none" />
<circle cx="916.4" cy="980.4" r="76" stroke-width="1.5" fill="none"/>
<path d="M1004.24 968.84 L1001.44 965.19 L996.88 965.79 L995.12 970.04 L997.92 973.69 L1002.48 973.09 Z" stroke-width="1.35" fill="none"/>
<path d="M998.26 946.49 L994.61 943.69 L990.36 945.45 L989.76 950.01 L993.41 952.82 L997.66 951.05 Z" stroke-width="1.35" fill="none"/>
<path d="M986.69 926.46 L982.44 924.7 L978.79 927.5 L979.39 932.06 L983.64 933.82 L987.29 931.02 Z" stroke-width="1.35" fill="none"/>
<path d="M970.34 910.11 L965.78 909.51 L962.98 913.16 L964.74 917.41 L969.3 918.01 L972.1 914.36 Z" stroke-width="1.35" fill="none"/>
<path d="M950.31 898.54 L945.75 899.14 L943.98 903.39 L946.79 907.04 L951.35 906.44 L953.11 902.19 Z" stroke-width="1.35" fill="none"/>
<path d="M927.96 892.56 L923.71 894.32 L923.11 898.88 L926.76 901.68 L931.01 899.92 L931.61 895.36 Z" stroke-width="1.35" fill="none"/>
<path d="M904.84 892.56 L901.19 895.36 L901.79 899.92 L906.04 901.68 L909.69 898.88 L909.09 894.32 Z" stroke-width="1.35" fill="none"/>
<path d="M882.49 898.54 L879.69 902.19 L881.45 906.44 L886.01 907.04 L888.82 903.39 L887.05 899.14 Z" stroke-width="1.35" fill="none"/>
<path d="M862.46 910.11 L860.7 914.36 L863.5 918.01 L868.06 917.41 L869.82 913.16 L867.02 909.51 Z" stroke-width="1.35" fill="none"/>
<path d="M846.11 926.46 L845.51 931.02 L849.16 933.82 L853.41 932.06 L854.01 927.5 L850.36 924.7 Z" stroke-width="1.35" fill="none"/>
<path d="M834.54 946.49 L835.14 951.05 L839.39 952.82 L843.04 950.01 L842.44 945.45 L838.19 943.69 Z" stroke-width="1.35" fill="none"/>
<path d="M828.56 968.84 L830.32 973.09 L834.88 973.69 L837.68 970.04 L835.92 965.79 L831.36 965.19 Z" stroke-width="1.35" fill="none"/>
<path d="M828.56 991.96 L831.36 995.61 L835.92 995.01 L837.68 990.76 L834.88 987.11 L830.32 987.71 Z" stroke-width="1.35" fill="none"/>
<path d="M834.54 1014.31 L838.19 1017.11 L842.44 1015.35 L843.04 1010.79 L839.39 1007.98 L835.14 1009.75 Z" stroke-width="1.35" fill="none"/>
<path d="M846.11 1034.34 L850.36 1036.1 L854.01 1033.3 L853.41 1028.74 L849.16 1026.98 L845.51 1029.78 Z" stroke-width="1.35" fill="none"/>
<path d="M862.46 1050.69 L867.02 1051.29 L869.82 1047.64 L868.06 1043.39 L863.5 1042.79 L860.7 1046.44 Z" stroke-width="1.35" fill="none"/>
<path d="M882.49 1062.26 L887.05 1061.66 L888.82 1057.41 L886.01 1053.76 L881.45 1054.36 L879.69 1058.61 Z" stroke-width="1.35" fill="none"/>
<path d="M904.84 1068.24 L909.09 1066.48 L909.69 1061.92 L906.04 1059.12 L901.79 1060.88 L901.19 1065.44 Z" stroke-width="1.35" fill="none"/>
<path d="M927.96 1068.24 L931.61 1065.44 L931.01 1060.88 L926.76 1059.12 L923.11 1061.92 L923.71 1066.48 Z" stroke-width="1.35" fill="none"/>
<path d="M950.31 1062.26 L953.11 1058.61 L951.35 1054.36 L946.79 1053.76 L943.98 1057.41 L945.75 1061.66 Z" stroke-width="1.35" fill="none"/>
<path d="M970.34 1050.69 L972.1 1046.44 L969.3 1042.79 L964.74 1043.39 L962.98 1047.64 L965.78 1051.29 Z" stroke-width="1.35" fill="none"/>
<path d="M986.69 1034.34 L987.29 1029.78 L983.64 1026.98 L979.39 1028.74 L978.79 1033.3 L982.44 1036.1 Z" stroke-width="1.35" fill="none"/>
<path d="M998.26 1014.31 L997.66 1009.75 L993.41 1007.98 L989.76 1010.79 L990.36 1015.35 L994.61 1017.11 Z" stroke-width="1.35" fill="none"/>
<path d="M1004.24 991.96 L1002.48 987.71 L997.92 987.11 L995.12 990.76 L996.88 995.01 L1001.44 995.61 Z" stroke-width="1.35" fill="none"/>
<circle cx="832.3" cy="923.6" r="5.5" stroke-width="1.35" fill="none"/>
<circle cx="1000.5" cy="923.6" r="5.5" stroke-width="1.35" fill="none"/>
<path d="M818.5 1031.5 L828 1031.5 L828 1084.3" stroke-width="1.5" fill="none"/>
<path d="M1014.4 1031.5 L1004.6 1031.5 L1004.6 1084.3" stroke-width="1.5" fill="none"/>
<rect x="791.8" y="1084.3" width="249.8" height="8.3" stroke-width="1.5" fill="none"/>
<line x1="799.2" y1="1085" x2="799.2" y2="1092" stroke-width="1.1" stroke-dasharray="3.2 1.8"/>
<line x1="810.4" y1="1085" x2="810.4" y2="1092" stroke-width="1.1" stroke-dasharray="3.2 1.8"/>
<line x1="1022" y1="1085" x2="1022" y2="1092" stroke-width="1.1" stroke-dasharray="3.2 1.8"/>
<line x1="1033.2" y1="1085" x2="1033.2" y2="1092" stroke-width="1.1" stroke-dasharray="3.2 1.8"/>
<line x1="821.5" y1="980.4" x2="1012" y2="980.4" stroke-width="0.9" stroke-dasharray="14 2.5 2.5 2.5"/>
<line x1="1012" y1="980.4" x2="1083" y2="980.4" stroke-width="0.9"/>
<line x1="916.4" y1="882" x2="916.4" y2="1093" stroke-width="0.9" stroke-dasharray="14 2.5 2.5 2.5"/>
<circle cx="916.4" cy="980.4" r="26.1" stroke-width="1.5" fill="none"/>
<circle cx="916.4" cy="980.4" r="4.4" stroke-width="1.5" fill="none"/>
<path d="M941.6 973.5 L946.2 973.5 L946.2 987.3 L941.6 987.3" stroke-width="1.5" fill="none"/>
<line x1="946.2" y1="973.5" x2="962.4" y2="973.5" stroke-width="0.9"/>
<line x1="946.2" y1="987.3" x2="962.4" y2="987.3" stroke-width="0.9"/>
<line x1="961.3" y1="943" x2="961.3" y2="1005.6" stroke-width="0.9"/>
<path d="M961.3 973.5 L959.3 960.5 L963.3 960.5Z" fill="#000" stroke="none"/>
<path d="M961.3 987.3 L963.3 1000.3 L959.3 1000.3Z" fill="#000" stroke="none"/>
<g transform="translate(957 949.9) rotate(-90)"><text x="-8.9" y="0" font-size="16">56</text></g>
<line x1="890.3" y1="980.4" x2="890.3" y2="1029.9" stroke-width="0.9"/>
<line x1="946.2" y1="987.3" x2="946.2" y2="1029.9" stroke-width="0.9"/>
<line x1="890.3" y1="1028.3" x2="946.2" y2="1028.3" stroke-width="0.9"/>
<path d="M890.3 1028.3 L904.3 1026.3 L904.3 1030.3Z" fill="#000" stroke="none"/>
<path d="M946.2 1028.3 L932.2 1030.3 L932.2 1026.3Z" fill="#000" stroke="none"/>
<g transform="translate(919.4 1022.8)"><text x="-13.35" y="0" font-size="16">262</text></g>
<g transform="translate(858 948.1)"><text x="0" y="0" font-size="16">M36</text></g>
<line x1="858.1" y1="951.5" x2="889.7" y2="951.5" stroke-width="0.9"/>
<line x1="889.7" y1="951.5" x2="931.4" y2="996.64" stroke-width="0.9"/>
<path d="M913.28 977.02 L903.89 969.36 L906.38 967.05Z" fill="#000" stroke="none"/>
<path d="M919.52 983.78 L928.91 991.44 L926.42 993.75Z" fill="#000" stroke="none"/>
<line x1="818.5" y1="865" x2="818.5" y2="925" stroke-width="0.9"/>
<line x1="1014.4" y1="865" x2="1014.4" y2="925" stroke-width="0.9"/>
<line x1="818.5" y1="867.5" x2="1014.4" y2="867.5" stroke-width="0.9"/>
<path d="M818.5 867.5 L832.5 865.5 L832.5 869.5Z" fill="#000" stroke="none"/>
<path d="M1014.4 867.5 L1000.4 869.5 L1000.4 865.5Z" fill="#000" stroke="none"/>
<g transform="translate(916.5 862.8)"><text x="-13.35" y="0" font-size="16">940</text></g>
<line x1="916.4" y1="885.4" x2="1104.2" y2="885.4" stroke-width="0.9"/>
<line x1="1041.6" y1="1092.6" x2="1104.2" y2="1092.6" stroke-width="0.9"/>
<line x1="1102.6" y1="885.4" x2="1102.6" y2="1092.6" stroke-width="0.9"/>
<path d="M1102.6 885.4 L1104.6 899.4 L1100.6 899.4Z" fill="#000" stroke="none"/>
<path d="M1102.6 1092.6 L1100.6 1078.6 L1104.6 1078.6Z" fill="#000" stroke="none"/>
<g transform="translate(1099.6 989) rotate(-90)"><text x="-13.35" y="0" font-size="16">998</text></g>
<line x1="1081.2" y1="980.4" x2="1081.2" y2="1092.6" stroke-width="0.9"/>
<path d="M1081.2 980.4 L1083.2 994.4 L1079.2 994.4Z" fill="#000" stroke="none"/>
<path d="M1081.2 1092.6 L1079.2 1078.6 L1083.2 1078.6Z" fill="#000" stroke="none"/>
<g transform="translate(1074.2 1047.3) rotate(-90)"><text x="-13.35" y="0" font-size="16">540</text></g>
<g transform="translate(1066.5 1024.2) rotate(-90)"><text x="-2.64" y="0" font-size="9.5">0</text></g>
<g transform="translate(1078.3 1022.3) rotate(-90)"><text x="-8.18" y="0" font-size="9.5">-0.9</text></g>
<line x1="1041.6" y1="1084.3" x2="1059" y2="1084.3" stroke-width="0.9"/>
<line x1="1057.5" y1="1054" x2="1057.5" y2="1109.5" stroke-width="0.9"/>
<path d="M1057.5 1084.3 L1055.5 1072.3 L1059.5 1072.3Z" fill="#000" stroke="none"/>
<path d="M1057.5 1092.6 L1059.5 1104.6 L1055.5 1104.6Z" fill="#000" stroke="none"/>
<g transform="translate(1054.2 1062) rotate(-90)"><text x="-8.9" y="0" font-size="16">45</text></g>
<g transform="translate(732.5 1066.7)"><text x="0" y="0" font-size="16">10-</text><ellipse cx="28.41" cy="-5.36" rx="4" ry="4.56" transform="rotate(12 28.41 -5.36)" fill="none" stroke="#111" stroke-width="1.28"/><line x1="26.32" y1="0.64" x2="30.48" y2="-12.16" stroke="#111" stroke-width="1.2"/><text x="34.64" y="0" font-size="16">39</text></g>
<line x1="730.5" y1="1071.3" x2="826" y2="1071.3" stroke-width="0.9"/>
<path d="M799.2 1071.3 L787.2 1073.3 L787.2 1069.3Z" fill="#000" stroke="none"/>
<path d="M810.4 1071.3 L822.4 1069.3 L822.4 1073.3Z" fill="#000" stroke="none"/>
<line x1="799.2" y1="1069" x2="799.2" y2="1084" stroke-width="0.9"/>
<line x1="810.4" y1="1069" x2="810.4" y2="1084" stroke-width="0.9"/>
<line x1="804.8" y1="1079" x2="804.8" y2="1116.5" stroke-width="0.9"/>
<line x1="1027.6" y1="1079" x2="1027.6" y2="1116.5" stroke-width="0.9"/>
<line x1="804.8" y1="1114.8" x2="1027.6" y2="1114.8" stroke-width="0.9"/>
<path d="M804.8 1114.8 L818.8 1112.8 L818.8 1116.8Z" fill="#000" stroke="none"/>
<path d="M1027.6 1114.8 L1013.6 1116.8 L1013.6 1112.8Z" fill="#000" stroke="none"/>
<g transform="translate(916.3 1109.5)"><text x="-17.8" y="0" font-size="16">1040</text></g>
<line x1="791.8" y1="1092.6" x2="791.8" y2="1138" stroke-width="0.9"/>
<line x1="1041.6" y1="1092.6" x2="1041.6" y2="1138" stroke-width="0.9"/>
<line x1="791.8" y1="1135.8" x2="1041.6" y2="1135.8" stroke-width="0.9"/>
<path d="M791.8 1135.8 L805.8 1133.8 L805.8 1137.8Z" fill="#000" stroke="none"/>
<path d="M1041.6 1135.8 L1027.6 1137.8 L1027.6 1133.8Z" fill="#000" stroke="none"/>
<g transform="translate(916.3 1130.8)"><text x="-17.8" y="0" font-size="16">1130</text></g>
<text x="213.5" y="1267.5" font-size="19.5" fill="#111">锁紧盘输出</text>
<text x="319.3" y="1268.6" font-size="19.5">(K2)</text>
<rect x="321.2" y="1313.3" width="10.8" height="185.1" stroke-width="1.5" fill="none"/>
<path d="M321.2 1330.4 L317.5 1330.4 L317.5 1481.2 L321.2 1481.2" stroke-width="1.5" fill="none"/>
<line x1="321.9" y1="1318.6" x2="331.3" y2="1318.6" stroke-width="1.1" stroke-dasharray="3.2 1.8"/>
<line x1="321.9" y1="1325.8" x2="331.3" y2="1325.8" stroke-width="1.1" stroke-dasharray="3.2 1.8"/>
<line x1="315.7" y1="1322.2" x2="337" y2="1322.2" stroke-width="0.8" stroke-dasharray="8 1.5 1.5 1.5"/>
<line x1="321.9" y1="1485.9" x2="331.3" y2="1485.9" stroke-width="1.1" stroke-dasharray="3.2 1.8"/>
<line x1="321.9" y1="1493.1" x2="331.3" y2="1493.1" stroke-width="1.1" stroke-dasharray="3.2 1.8"/>
<line x1="315.7" y1="1489.5" x2="337" y2="1489.5" stroke-width="0.8" stroke-dasharray="8 1.5 1.5 1.5"/>
<path d="M282.2 1366.6 L282.2 1343.3 L301 1343.3 L317.5 1338.9" stroke-width="1.5" fill="none"/>
<line x1="292" y1="1343.3" x2="292" y2="1366.3" stroke-width="1.5"/>
<line x1="300.5" y1="1343.3" x2="300.5" y2="1367" stroke-width="1.2"/>
<line x1="301.7" y1="1343.3" x2="301.7" y2="1367.2" stroke-width="1.2"/>
<path d="M282.2 1366.6 L298 1367.3 C306 1368.4 313.4 1373.9 314.5 1384.9" stroke-width="1.5" fill="none" />
<path d="M254 1370.4 L254 1349.1 L265.4 1349.1 L265.4 1369.3" stroke-width="1.5" fill="none"/>
<path d="M269.3 1369 L269.3 1349.1 L280.6 1349.1 L280.6 1370.4" stroke-width="1.5" fill="none"/>
<line x1="281.6" y1="1349.1" x2="281.6" y2="1370.4" stroke-width="1.3"/>
<path d="M253.5 1372.3 Q268 1367.5 281.4 1370.7" stroke-width="1.2" fill="none" />
<path d="M254.5 1372.5 Q268 1369.1 281 1371.9" stroke-width="0.8" fill="none" stroke-dasharray="4 2"/>
<rect x="248.6" y="1352.7" width="4.3" height="9.8" stroke-width="1.2" fill="none"/>
<line x1="248.6" y1="1355.9" x2="252.9" y2="1355.9" stroke-width="0.7"/>
<line x1="248.6" y1="1359.3" x2="252.9" y2="1359.3" stroke-width="0.7"/>
<line x1="246" y1="1357.6" x2="281.3" y2="1357.6" stroke-width="0.8" stroke-dasharray="8 1.5 1.5 1.5"/>
<path d="M282.2 1457.3 L282.2 1468.5 L301 1468.5 L317.5 1472.9" stroke-width="1.5" fill="none"/>
<line x1="292" y1="1468.5" x2="292" y2="1455.2" stroke-width="1.5"/>
<line x1="300.5" y1="1468.5" x2="300.5" y2="1453.1" stroke-width="1.2"/>
<line x1="301.7" y1="1468.5" x2="301.7" y2="1452.7" stroke-width="1.2"/>
<path d="M282.2 1457.3 C295 1455.4 311 1449.9 315.4 1430.9" stroke-width="1.5" fill="none" />
<path d="M254 1441.4 L254 1462.7 L265.4 1462.7 L265.4 1442.5" stroke-width="1.5" fill="none"/>
<path d="M269.3 1442.8 L269.3 1462.7 L280.6 1462.7 L280.6 1441.4" stroke-width="1.5" fill="none"/>
<line x1="281.6" y1="1462.7" x2="281.6" y2="1441.4" stroke-width="1.3"/>
<path d="M253.5 1439.5 Q268 1444.3 281.4 1441.1" stroke-width="1.2" fill="none" />
<path d="M254.5 1439.3 Q268 1442.7 281 1439.9" stroke-width="0.8" fill="none" stroke-dasharray="4 2"/>
<rect x="248.6" y="1449.3" width="4.3" height="9.8" stroke-width="1.2" fill="none"/>
<line x1="248.6" y1="1452.5" x2="252.9" y2="1452.5" stroke-width="0.7"/>
<line x1="248.6" y1="1455.9" x2="252.9" y2="1455.9" stroke-width="0.7"/>
<line x1="246" y1="1454.2" x2="281.3" y2="1454.2" stroke-width="0.8" stroke-dasharray="8 1.5 1.5 1.5"/>
<clipPath id="hc1"><path d="M250.5 1376.7 Q250.8 1373.3 254 1372.7 L281.4 1372.7 L303 1371.3 Q314.4 1372.1 314.5 1385.7 L314.5 1426.1 Q314.4 1439.7 303 1440.5 L281.4 1439.1 L254 1439.1 Q250.8 1438.5 250.5 1435.1 L250.5 1431.1 L308.7 1431.1 L308.7 1380.7 L250.5 1380.7 Z"/></clipPath>
<path d="M195.4 1369.7 L248 1442.1 M201.2 1369.7 L253.8 1442.1 M207 1369.7 L259.6 1442.1 M212.8 1369.7 L265.4 1442.1 M218.6 1369.7 L271.2 1442.1 M224.4 1369.7 L277 1442.1 M230.2 1369.7 L282.8 1442.1 M236 1369.7 L288.6 1442.1 M241.8 1369.7 L294.4 1442.1 M247.6 1369.7 L300.2 1442.1 M253.4 1369.7 L306 1442.1 M259.2 1369.7 L311.8 1442.1 M265 1369.7 L317.6 1442.1 M270.8 1369.7 L323.4 1442.1 M276.6 1369.7 L329.2 1442.1 M282.4 1369.7 L335 1442.1 M288.2 1369.7 L340.8 1442.1 M294 1369.7 L346.6 1442.1 M299.8 1369.7 L352.4 1442.1 M305.6 1369.7 L358.2 1442.1 M311.4 1369.7 L364 1442.1 M317.2 1369.7 L369.8 1442.1 M323 1369.7 L375.6 1442.1" clip-path="url(#hc1)" stroke-width="1.0" fill="none"/>
<path d="M250.5 1376.7 Q250.8 1373.3 254 1372.7 L281.4 1372.7 L303 1371.3 Q314.4 1372.1 314.5 1385.7 L314.5 1426.1 Q314.4 1439.7 303 1440.5 L281.4 1439.1 L254 1439.1 Q250.8 1438.5 250.5 1435.1 L250.5 1431.1 L308.7 1431.1 L308.7 1380.7 L250.5 1380.7 Z" stroke-width="1.5" fill="none" />
<line x1="279.6" y1="1380.7" x2="279.6" y2="1431.1" stroke-width="1.5"/>
<line x1="247.5" y1="1405.9" x2="332.6" y2="1405.9" stroke-width="1" stroke-dasharray="12 2.5 2.5 2.5"/>
<line x1="250.7" y1="1301" x2="250.7" y2="1374.7" stroke-width="0.9"/>
<line x1="321" y1="1301" x2="321" y2="1330" stroke-width="0.9"/>
<line x1="250.7" y1="1303.5" x2="321" y2="1303.5" stroke-width="0.9"/>
<path d="M250.7 1303.5 L262.7 1301.5 L262.7 1305.5Z" fill="#000" stroke="none"/>
<path d="M321 1303.5 L309 1305.5 L309 1301.5Z" fill="#000" stroke="none"/>
<g transform="translate(286.2 1298.2)"><text x="-13.35" y="0" font-size="16">294</text></g>
<g transform="translate(265.3 1395.2) scale(0.74 1)"><text x="-12.93" y="0" font-size="15.5">125</text></g>
<g transform="translate(294.5 1395.2) scale(0.74 1)"><text x="-12.93" y="0" font-size="15.5">125</text></g>
<line x1="250.7" y1="1399.8" x2="279.6" y2="1399.8" stroke-width="0.9"/>
<path d="M250.7 1399.8 L259.7 1398.2 L259.7 1401.4Z" fill="#000" stroke="none"/>
<path d="M279.6 1399.8 L270.6 1401.4 L270.6 1398.2Z" fill="#000" stroke="none"/>
<line x1="279.6" y1="1399.8" x2="308.7" y2="1399.8" stroke-width="0.9"/>
<path d="M279.6 1399.8 L288.6 1398.2 L288.6 1401.4Z" fill="#000" stroke="none"/>
<path d="M308.7 1399.8 L299.7 1401.4 L299.7 1398.2Z" fill="#000" stroke="none"/>
<line x1="208.8" y1="1380.7" x2="250.7" y2="1380.7" stroke-width="0.9"/>
<line x1="208.8" y1="1431.1" x2="250.7" y2="1431.1" stroke-width="0.9"/>
<line x1="229.8" y1="1381.9" x2="250.7" y2="1381.9" stroke-width="0.9"/>
<line x1="210" y1="1380.7" x2="210" y2="1431.1" stroke-width="0.9"/>
<path d="M210 1380.7 L211.7 1391.7 L208.3 1391.7Z" fill="#000" stroke="none"/>
<path d="M210 1431.1 L208.3 1420.1 L211.7 1420.1Z" fill="#000" stroke="none"/>
<line x1="231.3" y1="1380.7" x2="231.3" y2="1431.1" stroke-width="0.9"/>
<path d="M231.3 1380.7 L233 1391.7 L229.6 1391.7Z" fill="#000" stroke="none"/>
<path d="M231.3 1431.1 L229.6 1420.1 L233 1420.1Z" fill="#000" stroke="none"/>
<g transform="translate(206.4 1406.2) rotate(-90) scale(0.76 1)"><ellipse cx="-24.81" cy="-5.53" rx="4.12" ry="4.7" transform="rotate(12 -24.81 -5.53)" fill="none" stroke="#111" stroke-width="1.32"/><line x1="-26.95" y1="0.66" x2="-22.66" y2="-12.54" stroke="#111" stroke-width="1.24"/><text x="-18.37" y="0" font-size="16.5">250H7</text></g>
<g transform="translate(227.2 1406.2) rotate(-90) scale(0.76 1)"><ellipse cx="-24.81" cy="-5.53" rx="4.12" ry="4.7" transform="rotate(12 -24.81 -5.53)" fill="none" stroke="#111" stroke-width="1.32"/><line x1="-26.95" y1="0.66" x2="-22.66" y2="-12.54" stroke="#111" stroke-width="1.24"/><text x="-18.37" y="0" font-size="16.5">245H7</text></g>
<text x="553.3" y="1267.5" font-size="19.5" fill="#111">外花键输出</text>
<text x="658.8" y="1268.6" font-size="19.5">(C1)</text>
<rect x="703.8" y="1313.3" width="11.2" height="185.1" stroke-width="1.5" fill="none"/>
<path d="M703.8 1330.4 L699.6 1330.4 L699.6 1481.2 L703.8 1481.2" stroke-width="1.5" fill="none"/>
<line x1="704.5" y1="1318.6" x2="714.3" y2="1318.6" stroke-width="1.1" stroke-dasharray="3.2 1.8"/>
<line x1="704.5" y1="1325.8" x2="714.3" y2="1325.8" stroke-width="1.1" stroke-dasharray="3.2 1.8"/>
<line x1="698.3" y1="1322.2" x2="720" y2="1322.2" stroke-width="0.8" stroke-dasharray="8 1.5 1.5 1.5"/>
<line x1="704.5" y1="1485.9" x2="714.3" y2="1485.9" stroke-width="1.1" stroke-dasharray="3.2 1.8"/>
<line x1="704.5" y1="1493.1" x2="714.3" y2="1493.1" stroke-width="1.1" stroke-dasharray="3.2 1.8"/>
<line x1="698.3" y1="1489.5" x2="720" y2="1489.5" stroke-width="0.8" stroke-dasharray="8 1.5 1.5 1.5"/>
<path d="M663.4 1377.3 L663.4 1343.3 L683.1 1343.3 L699.3 1339.2" stroke-width="1.5" fill="none"/>
<line x1="674.7" y1="1343.3" x2="674.7" y2="1405.9" stroke-width="1.5"/>
<line x1="683.1" y1="1343.3" x2="683.1" y2="1405.9" stroke-width="1.5"/>
<path d="M663.4 1434.5 L663.4 1468.5 L683.1 1468.5 L699.3 1472.6" stroke-width="1.5" fill="none"/>
<line x1="674.7" y1="1468.5" x2="674.7" y2="1405.9" stroke-width="1.5"/>
<line x1="683.1" y1="1468.5" x2="683.1" y2="1405.9" stroke-width="1.5"/>
<path d="M663.4 1377.3 L618.4 1377.3 L618.4 1434.5 L663.4 1434.5" stroke-width="1.5" fill="none"/>
<line x1="653.1" y1="1377.3" x2="653.1" y2="1434.5" stroke-width="1.5"/>
<line x1="654.8" y1="1377.3" x2="654.8" y2="1434.5" stroke-width="0.8"/>
<line x1="618.4" y1="1379.1" x2="653.1" y2="1379.1" stroke-width="0.8"/>
<line x1="618.4" y1="1432.7" x2="653.1" y2="1432.7" stroke-width="0.8"/>
<line x1="622" y1="1382.3" x2="653.1" y2="1382.3" stroke-width="0.9" stroke-dasharray="4 2"/>
<line x1="622" y1="1429.5" x2="653.1" y2="1429.5" stroke-width="0.9" stroke-dasharray="4 2"/>
<line x1="618.4" y1="1385.5" x2="627" y2="1385.5" stroke-width="0.8"/>
<line x1="618.4" y1="1426.3" x2="627" y2="1426.3" stroke-width="0.8"/>
<path d="M618.4 1388.7 L610 1388.7 L610 1423.3 L618.4 1423.3" stroke-width="1.5" fill="none"/>
<line x1="605.3" y1="1405.9" x2="730" y2="1405.9" stroke-width="0.9" stroke-dasharray="14 2.5 2.5 2.5"/>
<line x1="610" y1="1302" x2="610" y2="1388.7" stroke-width="0.9"/>
<line x1="703.2" y1="1302" x2="703.2" y2="1330" stroke-width="0.9"/>
<line x1="610" y1="1304.4" x2="703.2" y2="1304.4" stroke-width="0.9"/>
<path d="M610 1304.4 L622 1302.4 L622 1306.4Z" fill="#000" stroke="none"/>
<path d="M703.2 1304.4 L691.2 1306.4 L691.2 1302.4Z" fill="#000" stroke="none"/>
<g transform="translate(656.5 1298.9)"><text x="-13.35" y="0" font-size="16">379</text></g>
<line x1="618.4" y1="1349.4" x2="618.4" y2="1377.3" stroke-width="0.9"/>
<line x1="653.1" y1="1349.4" x2="653.1" y2="1377.3" stroke-width="0.9"/>
<line x1="578.7" y1="1351.6" x2="610" y2="1351.6" stroke-width="0.9"/>
<path d="M610 1351.6 L601 1353.2 L601 1350Z" fill="#000" stroke="none"/>
<line x1="610" y1="1351.6" x2="618.4" y2="1351.6" stroke-width="0.9"/>
<line x1="618.4" y1="1351.6" x2="653.1" y2="1351.6" stroke-width="0.9"/>
<path d="M618.4 1351.6 L627.4 1350 L627.4 1353.2Z" fill="#000" stroke="none"/>
<path d="M653.1 1351.6 L644.1 1353.2 L644.1 1350Z" fill="#000" stroke="none"/>
<g transform="translate(587.1 1346.3)"><text x="-8.9" y="0" font-size="16">40</text></g>
<g transform="translate(636.2 1346.3)"><text x="-13.35" y="0" font-size="16">150</text></g>
<g transform="translate(502 1335) scale(0.73 1)"><text x="0" y="0" font-size="16.5">3-M20×30</text></g>
<line x1="501.2" y1="1337.8" x2="555.6" y2="1337.8" stroke-width="0.9"/>
<line x1="555.6" y1="1337.8" x2="618.2" y2="1383.8" stroke-width="0.9"/>
<line x1="544.4" y1="1377.3" x2="618.4" y2="1377.3" stroke-width="0.9"/>
<line x1="544.4" y1="1434.5" x2="618.4" y2="1434.5" stroke-width="0.9"/>
<line x1="546.2" y1="1377.3" x2="546.2" y2="1434.5" stroke-width="0.9"/>
<path d="M546.2 1377.3 L548.2 1389.3 L544.2 1389.3Z" fill="#000" stroke="none"/>
<path d="M546.2 1434.5 L544.2 1422.5 L548.2 1422.5Z" fill="#000" stroke="none"/>
<g transform="translate(541 1406.4) rotate(-90) scale(0.74 1)"><text x="-86.01" y="0" font-size="16.5">DIN5480 260×8×30×31</text></g>
<line x1="572.5" y1="1385.5" x2="618.4" y2="1385.5" stroke-width="0.9"/>
<line x1="572.5" y1="1426.8" x2="618.4" y2="1426.8" stroke-width="0.9"/>
<line x1="573.8" y1="1385.5" x2="573.8" y2="1426.8" stroke-width="0.9"/>
<path d="M573.8 1385.5 L575.5 1396.5 L572.1 1396.5Z" fill="#000" stroke="none"/>
<path d="M573.8 1426.8 L572.1 1415.8 L575.5 1415.8Z" fill="#000" stroke="none"/>
<g transform="translate(567.8 1406.4) rotate(-90)"><ellipse cx="-13.83" cy="-5.36" rx="4" ry="4.56" transform="rotate(12 -13.83 -5.36)" fill="none" stroke="#111" stroke-width="1.28"/><line x1="-15.91" y1="0.64" x2="-11.75" y2="-12.16" stroke="#111" stroke-width="1.2"/><text x="-7.59" y="0" font-size="16">200</text></g>
<line x1="592.2" y1="1388.7" x2="610" y2="1388.7" stroke-width="0.9"/>
<line x1="592.2" y1="1423.3" x2="610" y2="1423.3" stroke-width="0.9"/>
<line x1="594.4" y1="1388.7" x2="594.4" y2="1423.3" stroke-width="0.9"/>
<path d="M594.4 1388.7 L596 1397.7 L592.8 1397.7Z" fill="#000" stroke="none"/>
<path d="M594.4 1423.3 L592.8 1414.3 L596 1414.3Z" fill="#000" stroke="none"/>
<g transform="translate(590.6 1406.4) rotate(-90) scale(0.66 1)"><ellipse cx="-22.73" cy="-5.36" rx="4" ry="4.56" transform="rotate(12 -22.73 -5.36)" fill="none" stroke="#111" stroke-width="1.28"/><line x1="-24.81" y1="0.64" x2="-20.65" y2="-12.16" stroke="#111" stroke-width="1.2"/><text x="-16.49" y="0" font-size="16">155g8</text></g>
<text x="974.5" y="1267.5" font-size="19.5" fill="#111">内花键输出</text>
<text x="1079.4" y="1268.6" font-size="19.5">(C2)</text>
<rect x="1080.1" y="1313.3" width="10.5" height="185.1" stroke-width="1.5" fill="none"/>
<path d="M1080.1 1330.4 L1075.6 1330.4 L1075.6 1481.2 L1080.1 1481.2" stroke-width="1.5" fill="none"/>
<line x1="1080.8" y1="1318.6" x2="1089.9" y2="1318.6" stroke-width="1.1" stroke-dasharray="3.2 1.8"/>
<line x1="1080.8" y1="1325.8" x2="1089.9" y2="1325.8" stroke-width="1.1" stroke-dasharray="3.2 1.8"/>
<line x1="1074.6" y1="1322.2" x2="1095.6" y2="1322.2" stroke-width="0.8" stroke-dasharray="8 1.5 1.5 1.5"/>
<line x1="1080.8" y1="1485.9" x2="1089.9" y2="1485.9" stroke-width="1.1" stroke-dasharray="3.2 1.8"/>
<line x1="1080.8" y1="1493.1" x2="1089.9" y2="1493.1" stroke-width="1.1" stroke-dasharray="3.2 1.8"/>
<line x1="1074.6" y1="1489.5" x2="1095.6" y2="1489.5" stroke-width="0.8" stroke-dasharray="8 1.5 1.5 1.5"/>
<path d="M1058.4 1366.6 L1040.3 1362.7 L1040.3 1343 L1058.6 1343 L1075.6 1338.9" stroke-width="1.5" fill="none"/>
<line x1="1050" y1="1343" x2="1050" y2="1364.7" stroke-width="1.5"/>
<line x1="1058.4" y1="1343" x2="1058.4" y2="1368.3" stroke-width="1.5"/>
<path d="M1058.4 1445.2 L1040.3 1449.1 L1040.3 1468.8 L1058.6 1468.8 L1075.6 1472.9" stroke-width="1.5" fill="none"/>
<line x1="1050" y1="1468.8" x2="1050" y2="1447.1" stroke-width="1.5"/>
<line x1="1058.4" y1="1468.8" x2="1058.4" y2="1443.5" stroke-width="1.5"/>
<clipPath id="hc2"><path d="M1008.6 1379.6 L1008.6 1372.5 Q1008.6 1369.5 1011.6 1369.5 L1058.2 1369.5 C1066 1370 1074 1373.5 1078.4 1382 L1078.4 1387.6 L1075.4 1385.6 Q1073.6 1379.6 1069 1379.6 Z"/></clipPath>
<path d="M1005 1367.5 L986.46 1389.6 M1014.5 1367.5 L995.96 1389.6 M1024 1367.5 L1005.46 1389.6 M1033.5 1367.5 L1014.96 1389.6 M1043 1367.5 L1024.46 1389.6 M1052.5 1367.5 L1033.96 1389.6 M1062 1367.5 L1043.46 1389.6 M1071.5 1367.5 L1052.96 1389.6 M1081 1367.5 L1062.46 1389.6 M1090.5 1367.5 L1071.96 1389.6 M1100 1367.5 L1081.46 1389.6 M1109.5 1367.5 L1090.96 1389.6" clip-path="url(#hc2)" stroke-width="1.0" fill="none"/>
<clipPath id="hc3"><path d="M1008.6 1432.2 L1008.6 1439.3 Q1008.6 1442.3 1011.6 1442.3 L1058.2 1442.3 C1066 1441.8 1074 1438.3 1078.4 1429.8 L1078.4 1424.2 L1075.4 1426.2 Q1073.6 1432.2 1069 1432.2 Z"/></clipPath>
<path d="M1005 1422.2 L986.46 1444.3 M1014.5 1422.2 L995.96 1444.3 M1024 1422.2 L1005.46 1444.3 M1033.5 1422.2 L1014.96 1444.3 M1043 1422.2 L1024.46 1444.3 M1052.5 1422.2 L1033.96 1444.3 M1062 1422.2 L1043.46 1444.3 M1071.5 1422.2 L1052.96 1444.3 M1081 1422.2 L1062.46 1444.3 M1090.5 1422.2 L1071.96 1444.3 M1100 1422.2 L1081.46 1444.3 M1109.5 1422.2 L1090.96 1444.3" clip-path="url(#hc3)" stroke-width="1.0" fill="none"/>
<path d="M1008.6 1379.6 L1008.6 1372.5 Q1008.6 1369.5 1011.6 1369.5 L1058.2 1369.5 C1066 1370 1074 1373.5 1078.4 1382 L1078.4 1387.6 L1075.4 1385.6 Q1073.6 1379.6 1069 1379.6 Z" stroke-width="1.5" fill="none" />
<path d="M1008.6 1432.2 L1008.6 1439.3 Q1008.6 1442.3 1011.6 1442.3 L1058.2 1442.3 C1066 1441.8 1074 1438.3 1078.4 1429.8 L1078.4 1424.2 L1075.4 1426.2 Q1073.6 1432.2 1069 1432.2 Z" stroke-width="1.5" fill="none" />
<line x1="1009.3" y1="1379.6" x2="1009.3" y2="1432.2" stroke-width="2.2"/>
<line x1="1011.8" y1="1380.6" x2="1011.8" y2="1431.2" stroke-width="0.8"/>
<line x1="1025.6" y1="1379.6" x2="1025.6" y2="1432.2" stroke-width="1.5"/>
<line x1="1009" y1="1381.6" x2="1055.5" y2="1381.6" stroke-width="1"/>
<line x1="1009" y1="1430.2" x2="1055.5" y2="1430.2" stroke-width="1"/>
<path d="M1055.5 1432.7 L1055.5 1379.9 Q1057.8 1377 1060.2 1379.9 L1060.2 1432.7" stroke-width="1.2" fill="none" />
<line x1="1069" y1="1379.6" x2="1069" y2="1432.2" stroke-width="1.1"/>
<line x1="1073.8" y1="1384.6" x2="1073.8" y2="1427.2" stroke-width="1.3"/>
<line x1="1075.4" y1="1385.6" x2="1075.4" y2="1426.2" stroke-width="1.3"/>
<line x1="1076.9" y1="1387.6" x2="1076.9" y2="1424.2" stroke-width="1.3"/>
<line x1="1078.4" y1="1387.6" x2="1078.4" y2="1424.2" stroke-width="1.3"/>
<line x1="1002" y1="1405.9" x2="1097.3" y2="1405.9" stroke-width="1" stroke-dasharray="12 2.5 2.5 2.5"/>
<line x1="1008.8" y1="1301" x2="1008.8" y2="1371.5" stroke-width="0.9"/>
<line x1="1079.7" y1="1301" x2="1079.7" y2="1313" stroke-width="0.9"/>
<line x1="1008.8" y1="1303.3" x2="1079.7" y2="1303.3" stroke-width="0.9"/>
<path d="M1008.8 1303.3 L1020.8 1301.3 L1020.8 1305.3Z" fill="#000" stroke="none"/>
<path d="M1079.7 1303.3 L1067.7 1305.3 L1067.7 1301.3Z" fill="#000" stroke="none"/>
<g transform="translate(1044.2 1298.5)"><text x="-13.35" y="0" font-size="16">290</text></g>
<line x1="935.6" y1="1379.5" x2="1008.3" y2="1379.5" stroke-width="0.9"/>
<line x1="935.6" y1="1432.3" x2="1008.3" y2="1432.3" stroke-width="0.9"/>
<line x1="962" y1="1381.8" x2="1008.3" y2="1381.8" stroke-width="0.9"/>
<line x1="962" y1="1430" x2="1008.3" y2="1430" stroke-width="0.9"/>
<line x1="939.5" y1="1379.5" x2="939.5" y2="1432.3" stroke-width="0.9"/>
<path d="M939.5 1379.5 L941.5 1391.5 L937.5 1391.5Z" fill="#000" stroke="none"/>
<path d="M939.5 1432.3 L937.5 1420.3 L941.5 1420.3Z" fill="#000" stroke="none"/>
<line x1="963" y1="1381.8" x2="963" y2="1430" stroke-width="0.9"/>
<path d="M963 1381.8 L964.7 1392.8 L961.3 1392.8Z" fill="#000" stroke="none"/>
<path d="M963 1430 L961.3 1419 L964.7 1419Z" fill="#000" stroke="none"/>
<line x1="987.5" y1="1381.8" x2="987.5" y2="1430" stroke-width="0.9"/>
<path d="M987.5 1381.8 L989.2 1392.8 L985.8 1392.8Z" fill="#000" stroke="none"/>
<path d="M987.5 1430 L985.8 1419 L989.2 1419Z" fill="#000" stroke="none"/>
<g transform="translate(935.8 1404.7) rotate(-90) scale(0.78 1)"><ellipse cx="-23.89" cy="-5.53" rx="4.12" ry="4.7" transform="rotate(12 -23.89 -5.53)" fill="none" stroke="#111" stroke-width="1.32"/><line x1="-26.03" y1="0.66" x2="-21.74" y2="-12.54" stroke="#111" stroke-width="1.24"/><text x="-17.45" y="0" font-size="16.5">252F7</text></g>
<g transform="translate(960.6 1406.2) rotate(-90) scale(0.74 1)"><text x="-86.01" y="0" font-size="16.5">DIN5480 250×8×30×30</text></g>
<g transform="translate(983.6 1406.2) rotate(-90)"><ellipse cx="-13.83" cy="-5.36" rx="4" ry="4.56" transform="rotate(12 -13.83 -5.36)" fill="none" stroke="#111" stroke-width="1.28"/><line x1="-15.91" y1="0.64" x2="-11.75" y2="-12.16" stroke="#111" stroke-width="1.2"/><text x="-7.59" y="0" font-size="16">230</text></g>
<line x1="1008.6" y1="1442.3" x2="1008.6" y2="1489.5" stroke-width="0.9"/>
<line x1="1025.8" y1="1432.2" x2="1025.8" y2="1489.5" stroke-width="0.9"/>
<line x1="1055.6" y1="1442.3" x2="1055.6" y2="1528.5" stroke-width="0.9"/>
<line x1="1059" y1="1442.3" x2="1059" y2="1528.5" stroke-width="0.9"/>
<line x1="1068.6" y1="1432.2" x2="1068.6" y2="1528.5" stroke-width="0.9"/>
<line x1="991.9" y1="1487" x2="1008.6" y2="1487" stroke-width="0.9"/>
<path d="M1008.6 1487 L999.6 1488.6 L999.6 1485.4Z" fill="#000" stroke="none"/>
<line x1="1008.6" y1="1487" x2="1025.8" y2="1487" stroke-width="0.9"/>
<line x1="1025.8" y1="1487" x2="1055.6" y2="1487" stroke-width="0.9"/>
<path d="M1025.8 1487 L1034.8 1485.4 L1034.8 1488.6Z" fill="#000" stroke="none"/>
<path d="M1055.6 1487 L1046.6 1488.6 L1046.6 1485.4Z" fill="#000" stroke="none"/>
<g transform="translate(1017.2 1482.4) scale(0.74 1)"><text x="-8.62" y="0" font-size="15.5">50</text></g>
<g transform="translate(1040.3 1482.4) scale(0.74 1)"><text x="-12.93" y="0" font-size="15.5">150</text></g>
<line x1="1032.5" y1="1508.1" x2="1076.3" y2="1508.1" stroke-width="0.9"/>
<path d="M1055.6 1508.1 L1045.6 1509.7 L1045.6 1506.5Z" fill="#000" stroke="none"/>
<path d="M1059 1508.1 L1069 1506.5 L1069 1509.7Z" fill="#000" stroke="none"/>
<g transform="translate(1040.6 1502)"><text x="-8.9" y="0" font-size="16">10</text></g>
<line x1="1043.4" y1="1526.9" x2="1099.7" y2="1526.9" stroke-width="0.9"/>
<path d="M1059 1526.9 L1049 1528.5 L1049 1525.3Z" fill="#000" stroke="none"/>
<path d="M1068.6 1526.9 L1078.6 1525.3 L1078.6 1528.5Z" fill="#000" stroke="none"/>
<g transform="translate(1091.1 1521.5)"><text x="-8.9" y="0" font-size="16">30</text></g>
<text x="610" y="1583" font-size="19" letter-spacing="0.6" fill="#111">轴入型</text>
<rect x="373.7" y="1597.5" width="529.6" height="236.8" fill="none" stroke="#222" stroke-width="1.3"/>
<line x1="373.7" y1="1627.1" x2="903.3" y2="1627.1" stroke-width="1.1" stroke="#222"/>
<line x1="373.7" y1="1656.7" x2="903.3" y2="1656.7" stroke-width="1.4" stroke="#222"/>
<line x1="373.7" y1="1686.3" x2="903.3" y2="1686.3" stroke-width="1.1" stroke="#222"/>
<line x1="373.7" y1="1715.9" x2="903.3" y2="1715.9" stroke-width="1.1" stroke="#222"/>
<line x1="373.7" y1="1745.5" x2="903.3" y2="1745.5" stroke-width="1.1" stroke="#222"/>
<line x1="373.7" y1="1775.1" x2="903.3" y2="1775.1" stroke-width="1.1" stroke="#222"/>
<line x1="373.7" y1="1804.7" x2="903.3" y2="1804.7" stroke-width="1.1" stroke="#222"/>
<line x1="468" y1="1597.5" x2="468" y2="1834.3" stroke-width="1.5" stroke="#222"/>
<line x1="577" y1="1597.5" x2="577" y2="1834.3" stroke-width="1.1" stroke="#222"/>
<line x1="686" y1="1597.5" x2="686" y2="1834.3" stroke-width="1.1" stroke="#222"/>
<line x1="794.6" y1="1597.5" x2="794.6" y2="1834.3" stroke-width="1.1" stroke="#222"/>
<text x="420.85" y="1617.3" font-size="15.8" text-anchor="middle" fill="#111">级数</text>
<text x="522.5" y="1617.3" font-size="15.8" text-anchor="middle" fill="#111">一级</text>
<text x="631.5" y="1617.3" font-size="15.8" text-anchor="middle" fill="#111">二级</text>
<text x="740.3" y="1617.3" font-size="15.8" text-anchor="middle" fill="#111">三级</text>
<text x="848.95" y="1617.3" font-size="15.8" text-anchor="middle" fill="#111">四级</text>
<text x="420.85" y="1646.8" font-size="15.8" text-anchor="middle" fill="#111">速比</text>
<g transform="translate(522.5 1647.6) scale(1.14 1)"><text x="-18.02" y="0" font-size="16">3 ~ 8</text></g>
<g transform="translate(631.5 1647.6) scale(1.14 1)"><text x="-22.46" y="0" font-size="16">9 ~ 40</text></g>
<g transform="translate(740.3 1647.6) scale(1.14 1)"><text x="-31.36" y="0" font-size="16">48 ~ 320</text></g>
<g transform="translate(848.95 1647.6) scale(1.14 1)"><text x="-40.26" y="0" font-size="16">320 ~ 2560</text></g>
<g transform="translate(420.85 1677.2) scale(1.14 1)"><text x="-20" y="0" font-size="16">d(js6)</text></g>
<g transform="translate(522.5 1677.2) scale(1.14 1)"><text x="-2.22" y="0" font-size="16">/</text></g>
<g transform="translate(631.5 1677.2) scale(1.14 1)"><text x="-8.9" y="0" font-size="16">95</text></g>
<g transform="translate(740.3 1677.2) scale(1.14 1)"><text x="-8.9" y="0" font-size="16">70</text></g>
<g transform="translate(848.95 1677.2) scale(1.14 1)"><text x="-8.9" y="0" font-size="16">55</text></g>
<g transform="translate(420.85 1706.8) scale(1.14 1)"><text x="-5.78" y="0" font-size="16">R</text></g>
<g transform="translate(522.5 1706.8) scale(1.14 1)"><text x="-2.22" y="0" font-size="16">/</text></g>
<g transform="translate(631.5 1706.8) scale(1.14 1)"><text x="-8.9" y="0" font-size="16">25</text></g>
<g transform="translate(740.3 1706.8) scale(1.14 1)"><text x="-8.9" y="0" font-size="16">20</text></g>
<g transform="translate(848.95 1706.8) scale(1.14 1)"><text x="-8.9" y="0" font-size="16">16</text></g>
<g transform="translate(420.85 1736.4) scale(1.14 1)"><text x="-4.89" y="0" font-size="16">T</text></g>
<g transform="translate(522.5 1736.4) scale(1.14 1)"><text x="-2.22" y="0" font-size="16">/</text></g>
<g transform="translate(631.5 1736.4) scale(1.14 1)"><text x="-13.35" y="0" font-size="16">100</text></g>
<g transform="translate(740.3 1736.4) scale(1.14 1)"><text x="-15.57" y="0" font-size="16">74.5</text></g>
<g transform="translate(848.95 1736.4) scale(1.14 1)"><text x="-8.9" y="0" font-size="16">59</text></g>
<g transform="translate(420.85 1766) scale(1.14 1)"><text x="-5.34" y="0" font-size="16">S</text></g>
<g transform="translate(522.5 1766) scale(1.14 1)"><text x="-2.22" y="0" font-size="16">/</text></g>
<g transform="translate(631.5 1766) scale(1.14 1)"><text x="-15.56" y="0" font-size="16">M20</text></g>
<g transform="translate(740.3 1766) scale(1.14 1)"><text x="-15.56" y="0" font-size="16">M16</text></g>
<g transform="translate(848.95 1766) scale(1.14 1)"><text x="-15.56" y="0" font-size="16">M16</text></g>
<g transform="translate(420.85 1795.6) scale(1.14 1)"><text x="-10.23" y="0" font-size="16">H1</text></g>
<g transform="translate(522.5 1795.6) scale(1.14 1)"><text x="-2.22" y="0" font-size="16">/</text></g>
<g transform="translate(631.5 1795.6) scale(1.14 1)"><text x="-13.35" y="0" font-size="16">450</text></g>
<g transform="translate(740.3 1795.6) scale(1.14 1)"><text x="-13.35" y="0" font-size="16">314</text></g>
<g transform="translate(848.95 1795.6) scale(1.14 1)"><text x="-13.35" y="0" font-size="16">255</text></g>
<g transform="translate(420.85 1825.2) scale(1.14 1)"><text x="-10.23" y="0" font-size="16">H2</text></g>
<g transform="translate(522.5 1825.2) scale(1.14 1)"><text x="-2.22" y="0" font-size="16">/</text></g>
<g transform="translate(631.5 1825.2) scale(1.14 1)"><text x="-13.35" y="0" font-size="16">170</text></g>
<g transform="translate(740.3 1825.2) scale(1.14 1)"><text x="-13.35" y="0" font-size="16">120</text></g>
<g transform="translate(848.95 1825.2) scale(1.14 1)"><text x="-8.9" y="0" font-size="16">90</text></g>
<text x="296.5" y="1865" font-size="18.05" fill="#111">备注：输入端法兰尺寸可根据三相异步、伺服、步进、液压等不同电机另配输入法兰。</text>
</svg>
</body>
</html>
